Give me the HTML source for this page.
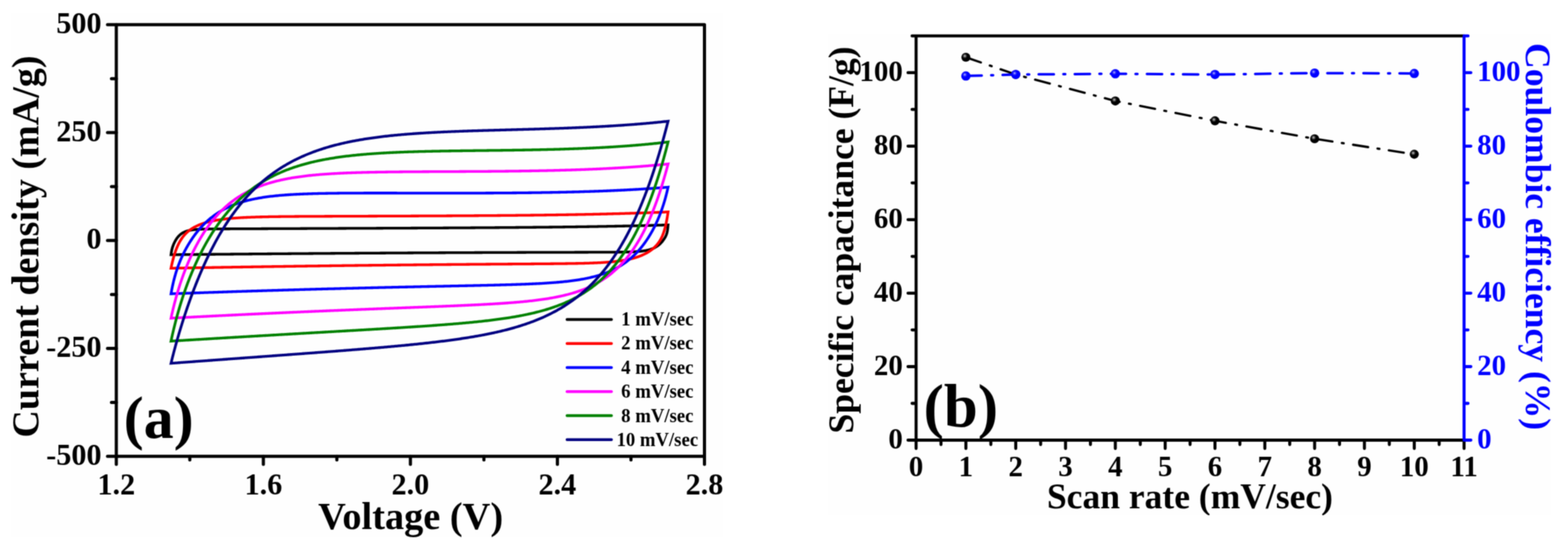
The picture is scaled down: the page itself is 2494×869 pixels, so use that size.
<!DOCTYPE html><html><head><meta charset="utf-8"><title>CV and capacitance</title><style>
html,body{margin:0;padding:0;background:#fff;width:2494px;height:869px;overflow:hidden}
svg{display:block}
text{font-family:'Liberation Serif','Times New Roman',serif;font-weight:bold}
</style></head><body>
<svg width="2494" height="869" viewBox="0 0 2494 869">
<defs>
<filter id="soft" x="0" y="0" width="2494" height="869" filterUnits="userSpaceOnUse" color-interpolation-filters="sRGB"><feConvolveMatrix order="5" kernelMatrix="0.00023 0.00332 0.00809 0.00332 0.00023 0.00332 0.04785 0.11640 0.04785 0.00332 0.00809 0.11640 0.28313 0.11640 0.00809 0.00332 0.04785 0.11640 0.04785 0.00332 0.00023 0.00332 0.00809 0.00332 0.00023" edgeMode="duplicate"/></filter>
<radialGradient id="gk" cx="0.38" cy="0.36" r="0.62"><stop offset="0" stop-color="#d8d8d8"/><stop offset="0.22" stop-color="#555"/><stop offset="0.45" stop-color="#000"/><stop offset="1" stop-color="#000"/></radialGradient>
<radialGradient id="gb" cx="0.38" cy="0.36" r="0.62"><stop offset="0" stop-color="#d0d0ff"/><stop offset="0.22" stop-color="#3a3aff"/><stop offset="0.45" stop-color="#0000ff"/><stop offset="1" stop-color="#0000ff"/></radialGradient>
<clipPath id="cl"><rect x="0" y="0" width="2494" height="855"/></clipPath>
<clipPath id="cr"><rect x="1317.5" y="0" width="1200" height="820"/></clipPath>
</defs>
<g filter="url(#soft)">
<rect x="0" y="0" width="2494" height="869" fill="#fff"/>
<rect x="16.9" y="20" width="1133.1" height="835" fill="#fefefe"/>
<rect x="1317.5" y="54" width="1149.5" height="766" fill="#fefefe"/>
<g id="left">
<path d="M272.00,405.40 L272.50,401.78 L273.00,399.01 L273.50,396.77 L274.00,394.89 L274.50,393.25 L275.00,391.78 L275.50,390.43 L276.00,389.17 L276.50,388.00 L277.00,386.89 L277.50,385.84 L278.00,384.85 L278.50,383.90 L279.00,383.00 L279.50,382.14 L280.00,381.32 L280.50,380.54 L281.00,379.79 L281.50,379.09 L282.00,378.41 L282.50,377.76 L283.00,377.15 L283.50,376.56 L284.00,376.00 L284.50,375.47 L285.00,374.96 L285.50,374.47 L286.00,374.01 L286.50,373.57 L287.00,373.15 L287.50,372.75 L288.00,372.36 L288.50,372.00 L289.00,371.65 L289.50,371.32 L290.00,371.00 L290.50,370.70 L291.00,370.41 L291.50,370.13 L292.00,369.87 L292.50,369.62 L293.00,369.38 L293.50,369.15 L294.00,368.94 L294.50,368.73 L295.00,368.53 L295.50,368.34 L296.00,368.16 L296.50,367.99 L297.00,367.82 L297.50,367.67 L298.00,367.52 L298.50,367.38 L299.00,367.24 L299.50,367.11 L300.00,366.99 L300.50,366.87 L301.00,366.76 L301.50,366.65 L302.00,366.55 L302.50,366.45 L303.00,366.35 L303.50,366.26 L304.00,366.18 L304.50,366.10 L305.00,366.02 L305.50,365.95 L306.00,365.87 L306.50,365.81 L307.00,365.74 L307.50,365.68 L308.00,365.62 L308.50,365.56 L309.00,365.51 L309.50,365.46 L310.00,365.41 L310.50,365.36 L311.00,365.32 L311.50,365.28 L312.00,365.24 L312.50,365.20 L313.00,365.16 L313.50,365.12 L314.00,365.09 L314.50,365.06 L315.00,365.02 L315.50,364.99 L316.00,364.97 L316.50,364.94 L317.00,364.91 L317.50,364.89 L318.00,364.86 L318.50,364.84 L319.00,364.82 L319.50,364.80 L320.00,364.78 L320.50,364.76 L321.00,364.74 L321.50,364.72 L322.00,364.70 L322.50,364.69 L323.00,364.67 L323.50,364.66 L324.00,364.64 L324.50,364.63 L325.00,364.62 L325.50,364.60 L326.00,364.59 L326.50,364.58 L327.00,364.57 L327.50,364.56 L328.00,364.55 L328.50,364.54 L329.00,364.53 L329.50,364.52 L330.00,364.51 L330.50,364.50 L331.00,364.49 L331.50,364.48 L332.00,364.47 L333.83,364.45 L335.66,364.42 L337.49,364.40 L339.32,364.39 L341.16,364.37 L342.99,364.35 L344.82,364.34 L346.65,364.33 L348.48,364.31 L350.31,364.30 L352.14,364.29 L353.97,364.28 L355.80,364.27 L357.64,364.26 L359.47,364.25 L361.30,364.25 L363.13,364.24 L364.96,364.23 L366.79,364.22 L368.62,364.21 L370.45,364.20 L372.28,364.20 L374.11,364.19 L375.95,364.18 L377.78,364.17 L379.61,364.17 L381.44,364.16 L383.27,364.15 L385.10,364.14 L386.93,364.14 L388.76,364.13 L390.59,364.12 L392.43,364.11 L394.26,364.11 L396.09,364.10 L397.92,364.09 L399.75,364.08 L401.58,364.08 L403.41,364.07 L405.24,364.06 L407.07,364.05 L408.91,364.05 L410.74,364.04 L412.57,364.03 L414.40,364.03 L416.23,364.02 L418.06,364.01 L419.89,364.00 L421.72,364.00 L423.55,363.99 L425.38,363.98 L427.22,363.97 L429.05,363.97 L430.88,363.96 L432.71,363.95 L434.54,363.94 L436.37,363.94 L438.20,363.93 L440.03,363.92 L441.86,363.91 L443.70,363.91 L445.53,363.90 L447.36,363.89 L449.19,363.89 L451.02,363.88 L452.85,363.87 L454.68,363.86 L456.51,363.86 L458.34,363.85 L460.18,363.84 L462.01,363.83 L463.84,363.83 L465.67,363.82 L467.50,363.81 L469.33,363.80 L471.16,363.80 L472.99,363.79 L474.82,363.78 L476.66,363.78 L478.49,363.77 L480.32,363.76 L482.15,363.75 L483.98,363.75 L485.81,363.74 L487.64,363.73 L489.47,363.72 L491.30,363.72 L493.13,363.71 L494.97,363.70 L496.80,363.69 L498.63,363.69 L500.46,363.68 L502.29,363.67 L504.12,363.66 L505.95,363.66 L507.78,363.65 L509.61,363.64 L511.45,363.63 L513.28,363.63 L515.11,363.62 L516.94,363.61 L518.77,363.60 L520.60,363.60 L522.43,363.59 L524.26,363.58 L526.09,363.57 L527.93,363.57 L529.76,363.56 L531.59,363.55 L533.42,363.54 L535.25,363.54 L537.08,363.53 L538.91,363.52 L540.74,363.51 L542.57,363.51 L544.41,363.50 L546.24,363.49 L548.07,363.48 L549.90,363.48 L551.73,363.47 L553.56,363.46 L555.39,363.45 L557.22,363.45 L559.05,363.44 L560.88,363.43 L562.72,363.42 L564.55,363.42 L566.38,363.41 L568.21,363.40 L570.04,363.39 L571.87,363.38 L573.70,363.38 L575.53,363.37 L577.36,363.36 L579.20,363.35 L581.03,363.35 L582.86,363.34 L584.69,363.33 L586.52,363.32 L588.35,363.32 L590.18,363.31 L592.01,363.30 L593.84,363.29 L595.68,363.28 L597.51,363.28 L599.34,363.27 L601.17,363.26 L603.00,363.25 L604.83,363.24 L606.66,363.24 L608.49,363.23 L610.32,363.22 L612.15,363.21 L613.99,363.20 L615.82,363.20 L617.65,363.19 L619.48,363.18 L621.31,363.17 L623.14,363.16 L624.97,363.16 L626.80,363.15 L628.63,363.14 L630.47,363.13 L632.30,363.12 L634.13,363.11 L635.96,363.11 L637.79,363.10 L639.62,363.09 L641.45,363.08 L643.28,363.07 L645.11,363.06 L646.95,363.06 L648.78,363.05 L650.61,363.04 L652.44,363.03 L654.27,363.02 L656.10,363.01 L657.93,363.00 L659.76,363.00 L661.59,362.99 L663.43,362.98 L665.26,362.97 L667.09,362.96 L668.92,362.95 L670.75,362.94 L672.58,362.93 L674.41,362.93 L676.24,362.92 L678.07,362.91 L679.90,362.90 L681.74,362.89 L683.57,362.88 L685.40,362.87 L687.23,362.86 L689.06,362.85 L690.89,362.84 L692.72,362.83 L694.55,362.82 L696.38,362.81 L698.22,362.81 L700.05,362.80 L701.88,362.79 L703.71,362.78 L705.54,362.77 L707.37,362.76 L709.20,362.75 L711.03,362.74 L712.86,362.73 L714.70,362.72 L716.53,362.71 L718.36,362.70 L720.19,362.69 L722.02,362.68 L723.85,362.67 L725.68,362.66 L727.51,362.65 L729.34,362.64 L731.17,362.63 L733.01,362.62 L734.84,362.60 L736.67,362.59 L738.50,362.58 L740.33,362.57 L742.16,362.56 L743.99,362.55 L745.82,362.54 L747.65,362.53 L749.49,362.52 L751.32,362.51 L753.15,362.50 L754.98,362.48 L756.81,362.47 L758.64,362.46 L760.47,362.45 L762.30,362.44 L764.13,362.43 L765.97,362.41 L767.80,362.40 L769.63,362.39 L771.46,362.38 L773.29,362.37 L775.12,362.35 L776.95,362.34 L778.78,362.33 L780.61,362.32 L782.45,362.30 L784.28,362.29 L786.11,362.28 L787.94,362.27 L789.77,362.25 L791.60,362.24 L793.43,362.23 L795.26,362.21 L797.09,362.20 L798.92,362.19 L800.76,362.17 L802.59,362.16 L804.42,362.14 L806.25,362.13 L808.08,362.12 L809.91,362.10 L811.74,362.09 L813.57,362.07 L815.40,362.06 L817.24,362.04 L819.07,362.03 L820.90,362.01 L822.73,362.00 L824.56,361.98 L826.39,361.97 L828.22,361.95 L830.05,361.94 L831.88,361.92 L833.72,361.91 L835.55,361.89 L837.38,361.87 L839.21,361.86 L841.04,361.84 L842.87,361.82 L844.70,361.81 L846.53,361.79 L848.36,361.77 L850.19,361.76 L852.03,361.74 L853.86,361.72 L855.69,361.70 L857.52,361.69 L859.35,361.67 L861.18,361.65 L863.01,361.63 L864.84,361.61 L866.67,361.59 L868.51,361.58 L870.34,361.56 L872.17,361.54 L874.00,361.52 L875.83,361.50 L877.66,361.48 L879.49,361.46 L881.32,361.44 L883.15,361.42 L884.99,361.40 L886.82,361.38 L888.65,361.35 L890.48,361.33 L892.31,361.31 L894.14,361.29 L895.97,361.27 L897.80,361.25 L899.63,361.22 L901.47,361.20 L903.30,361.18 L905.13,361.16 L906.96,361.13 L908.79,361.11 L910.62,361.09 L912.45,361.06 L914.28,361.04 L916.11,361.01 L917.94,360.99 L919.78,360.96 L921.61,360.94 L923.44,360.91 L925.27,360.89 L927.10,360.86 L928.93,360.84 L930.76,360.81 L932.59,360.78 L934.42,360.76 L936.26,360.73 L938.09,360.70 L939.92,360.67 L941.75,360.65 L943.58,360.62 L945.41,360.59 L947.24,360.56 L949.07,360.53 L950.90,360.50 L952.74,360.47 L954.57,360.44 L956.40,360.41 L958.23,360.38 L960.06,360.35 L961.89,360.32 L963.72,360.29 L965.55,360.26 L967.38,360.22 L969.22,360.19 L971.05,360.16 L972.88,360.12 L974.71,360.09 L976.54,360.06 L978.37,360.02 L980.20,359.99 L982.03,359.95 L983.86,359.92 L985.69,359.88 L987.53,359.85 L989.36,359.81 L991.19,359.77 L993.02,359.74 L994.85,359.70 L996.68,359.66 L998.51,359.62 L1000.34,359.58 L1002.17,359.54 L1004.01,359.50 L1005.84,359.46 L1007.67,359.42 L1009.50,359.38 L1011.33,359.34 L1013.16,359.30 L1014.99,359.26 L1016.82,359.22 L1018.65,359.17 L1020.49,359.13 L1022.32,359.09 L1024.15,359.04 L1025.98,359.00 L1027.81,358.95 L1029.64,358.91 L1031.47,358.86 L1033.30,358.81 L1035.13,358.77 L1036.96,358.72 L1038.80,358.67 L1040.63,358.62 L1042.46,358.57 L1044.29,358.52 L1046.12,358.47 L1047.95,358.42 L1049.78,358.37 L1051.61,358.32 L1053.44,358.27 L1055.28,358.22 L1057.11,358.16 L1058.94,358.11 L1060.77,358.05 L1062.60,358.00 L1062.10,363.26 L1061.60,366.87 L1061.10,369.45 L1060.60,371.40 L1060.10,372.96 L1059.60,374.26 L1059.10,375.39 L1058.60,376.42 L1058.10,377.36 L1057.60,378.24 L1057.10,379.07 L1056.60,379.87 L1056.10,380.63 L1055.60,381.36 L1055.10,382.07 L1054.60,382.74 L1054.10,383.40 L1053.60,384.03 L1053.10,384.63 L1052.60,385.22 L1052.10,385.78 L1051.60,386.33 L1051.10,386.86 L1050.60,387.36 L1050.10,387.85 L1049.60,388.33 L1049.10,388.78 L1048.60,389.22 L1048.10,389.65 L1047.60,390.06 L1047.10,390.45 L1046.60,390.83 L1046.10,391.20 L1045.60,391.56 L1045.10,391.90 L1044.60,392.23 L1044.10,392.55 L1043.60,392.86 L1043.10,393.16 L1042.60,393.44 L1042.10,393.72 L1041.60,393.99 L1041.10,394.25 L1040.60,394.50 L1040.10,394.74 L1039.60,394.97 L1039.10,395.19 L1038.60,395.41 L1038.10,395.62 L1037.60,395.82 L1037.10,396.01 L1036.60,396.20 L1036.10,396.38 L1035.60,396.55 L1035.10,396.72 L1034.60,396.88 L1034.10,397.04 L1033.60,397.19 L1033.10,397.34 L1032.60,397.48 L1032.10,397.62 L1031.60,397.75 L1031.10,397.87 L1030.60,398.00 L1030.10,398.11 L1029.60,398.23 L1029.10,398.34 L1028.60,398.44 L1028.10,398.55 L1027.60,398.64 L1027.10,398.74 L1026.60,398.83 L1026.10,398.92 L1025.60,399.01 L1025.10,399.09 L1024.60,399.17 L1024.10,399.25 L1023.60,399.32 L1023.10,399.39 L1022.60,399.46 L1022.10,399.53 L1021.60,399.59 L1021.10,399.66 L1020.60,399.72 L1020.10,399.77 L1019.60,399.83 L1019.10,399.88 L1018.60,399.94 L1018.10,399.99 L1017.60,400.04 L1017.10,400.08 L1016.60,400.13 L1016.10,400.17 L1015.60,400.21 L1015.10,400.25 L1014.60,400.29 L1014.10,400.33 L1013.60,400.37 L1013.10,400.40 L1012.60,400.44 L1012.10,400.47 L1011.60,400.50 L1011.10,400.53 L1010.60,400.56 L1010.10,400.59 L1009.60,400.62 L1009.10,400.65 L1008.60,400.67 L1008.10,400.70 L1007.60,400.72 L1007.10,400.75 L1006.60,400.77 L1006.10,400.79 L1005.60,400.81 L1005.10,400.83 L1004.60,400.85 L1004.10,400.87 L1003.60,400.89 L1003.10,400.91 L1002.60,400.92 L1000.77,400.98 L998.94,401.03 L997.11,401.08 L995.28,401.12 L993.44,401.15 L991.61,401.18 L989.78,401.21 L987.95,401.24 L986.12,401.26 L984.29,401.28 L982.46,401.29 L980.63,401.31 L978.80,401.32 L976.96,401.34 L975.13,401.35 L973.30,401.36 L971.47,401.37 L969.64,401.38 L967.81,401.39 L965.98,401.39 L964.15,401.40 L962.32,401.41 L960.49,401.41 L958.65,401.42 L956.82,401.42 L954.99,401.43 L953.16,401.43 L951.33,401.44 L949.50,401.44 L947.67,401.45 L945.84,401.45 L944.01,401.46 L942.17,401.46 L940.34,401.47 L938.51,401.47 L936.68,401.47 L934.85,401.48 L933.02,401.48 L931.19,401.49 L929.36,401.49 L927.53,401.49 L925.69,401.50 L923.86,401.50 L922.03,401.51 L920.20,401.51 L918.37,401.51 L916.54,401.52 L914.71,401.52 L912.88,401.53 L911.05,401.53 L909.22,401.53 L907.38,401.54 L905.55,401.54 L903.72,401.55 L901.89,401.55 L900.06,401.56 L898.23,401.56 L896.40,401.56 L894.57,401.57 L892.74,401.57 L890.90,401.58 L889.07,401.58 L887.24,401.59 L885.41,401.59 L883.58,401.60 L881.75,401.60 L879.92,401.60 L878.09,401.61 L876.26,401.61 L874.42,401.62 L872.59,401.62 L870.76,401.63 L868.93,401.63 L867.10,401.64 L865.27,401.64 L863.44,401.65 L861.61,401.65 L859.78,401.66 L857.94,401.66 L856.11,401.67 L854.28,401.68 L852.45,401.68 L850.62,401.69 L848.79,401.69 L846.96,401.70 L845.13,401.70 L843.30,401.71 L841.47,401.71 L839.63,401.72 L837.80,401.72 L835.97,401.73 L834.14,401.74 L832.31,401.74 L830.48,401.75 L828.65,401.75 L826.82,401.76 L824.99,401.77 L823.15,401.77 L821.32,401.78 L819.49,401.78 L817.66,401.79 L815.83,401.80 L814.00,401.80 L812.17,401.81 L810.34,401.81 L808.51,401.82 L806.67,401.83 L804.84,401.83 L803.01,401.84 L801.18,401.85 L799.35,401.85 L797.52,401.86 L795.69,401.87 L793.86,401.87 L792.03,401.88 L790.19,401.89 L788.36,401.89 L786.53,401.90 L784.70,401.91 L782.87,401.91 L781.04,401.92 L779.21,401.93 L777.38,401.93 L775.55,401.94 L773.72,401.95 L771.88,401.95 L770.05,401.96 L768.22,401.97 L766.39,401.98 L764.56,401.98 L762.73,401.99 L760.90,402.00 L759.07,402.01 L757.24,402.01 L755.40,402.02 L753.57,402.03 L751.74,402.04 L749.91,402.04 L748.08,402.05 L746.25,402.06 L744.42,402.07 L742.59,402.07 L740.76,402.08 L738.92,402.09 L737.09,402.10 L735.26,402.10 L733.43,402.11 L731.60,402.12 L729.77,402.13 L727.94,402.14 L726.11,402.15 L724.28,402.15 L722.45,402.16 L720.61,402.17 L718.78,402.18 L716.95,402.19 L715.12,402.19 L713.29,402.20 L711.46,402.21 L709.63,402.22 L707.80,402.23 L705.97,402.24 L704.13,402.25 L702.30,402.25 L700.47,402.26 L698.64,402.27 L696.81,402.28 L694.98,402.29 L693.15,402.30 L691.32,402.31 L689.49,402.32 L687.65,402.32 L685.82,402.33 L683.99,402.34 L682.16,402.35 L680.33,402.36 L678.50,402.37 L676.67,402.38 L674.84,402.39 L673.01,402.40 L671.17,402.41 L669.34,402.42 L667.51,402.43 L665.68,402.44 L663.85,402.44 L662.02,402.45 L660.19,402.46 L658.36,402.47 L656.53,402.48 L654.70,402.49 L652.86,402.50 L651.03,402.51 L649.20,402.52 L647.37,402.53 L645.54,402.54 L643.71,402.55 L641.88,402.56 L640.05,402.57 L638.22,402.58 L636.38,402.59 L634.55,402.60 L632.72,402.61 L630.89,402.62 L629.06,402.63 L627.23,402.64 L625.40,402.65 L623.57,402.66 L621.74,402.67 L619.90,402.68 L618.07,402.69 L616.24,402.71 L614.41,402.72 L612.58,402.73 L610.75,402.74 L608.92,402.75 L607.09,402.76 L605.26,402.77 L603.43,402.78 L601.59,402.79 L599.76,402.80 L597.93,402.81 L596.10,402.82 L594.27,402.83 L592.44,402.85 L590.61,402.86 L588.78,402.87 L586.95,402.88 L585.11,402.89 L583.28,402.90 L581.45,402.91 L579.62,402.92 L577.79,402.94 L575.96,402.95 L574.13,402.96 L572.30,402.97 L570.47,402.98 L568.63,402.99 L566.80,403.00 L564.97,403.02 L563.14,403.03 L561.31,403.04 L559.48,403.05 L557.65,403.06 L555.82,403.08 L553.99,403.09 L552.15,403.10 L550.32,403.11 L548.49,403.12 L546.66,403.13 L544.83,403.15 L543.00,403.16 L541.17,403.17 L539.34,403.18 L537.51,403.20 L535.68,403.21 L533.84,403.22 L532.01,403.23 L530.18,403.25 L528.35,403.26 L526.52,403.27 L524.69,403.28 L522.86,403.30 L521.03,403.31 L519.20,403.32 L517.36,403.33 L515.53,403.35 L513.70,403.36 L511.87,403.37 L510.04,403.38 L508.21,403.40 L506.38,403.41 L504.55,403.42 L502.72,403.44 L500.88,403.45 L499.05,403.46 L497.22,403.48 L495.39,403.49 L493.56,403.50 L491.73,403.52 L489.90,403.53 L488.07,403.54 L486.24,403.56 L484.41,403.57 L482.57,403.58 L480.74,403.60 L478.91,403.61 L477.08,403.62 L475.25,403.64 L473.42,403.65 L471.59,403.66 L469.76,403.68 L467.93,403.69 L466.09,403.71 L464.26,403.72 L462.43,403.73 L460.60,403.75 L458.77,403.76 L456.94,403.78 L455.11,403.79 L453.28,403.80 L451.45,403.82 L449.61,403.83 L447.78,403.85 L445.95,403.86 L444.12,403.87 L442.29,403.89 L440.46,403.90 L438.63,403.92 L436.80,403.93 L434.97,403.95 L433.13,403.96 L431.30,403.98 L429.47,403.99 L427.64,404.01 L425.81,404.02 L423.98,404.03 L422.15,404.05 L420.32,404.06 L418.49,404.08 L416.66,404.09 L414.82,404.11 L412.99,404.12 L411.16,404.14 L409.33,404.15 L407.50,404.17 L405.67,404.18 L403.84,404.20 L402.01,404.21 L400.18,404.23 L398.34,404.25 L396.51,404.26 L394.68,404.28 L392.85,404.29 L391.02,404.31 L389.19,404.32 L387.36,404.34 L385.53,404.35 L383.70,404.37 L381.86,404.39 L380.03,404.40 L378.20,404.42 L376.37,404.43 L374.54,404.45 L372.71,404.46 L370.88,404.48 L369.05,404.50 L367.22,404.51 L365.38,404.53 L363.55,404.54 L361.72,404.56 L359.89,404.58 L358.06,404.59 L356.23,404.61 L354.40,404.63 L352.57,404.64 L350.74,404.66 L348.91,404.67 L347.07,404.69 L345.24,404.71 L343.41,404.72 L341.58,404.74 L339.75,404.76 L337.92,404.77 L336.09,404.79 L334.26,404.81 L332.43,404.82 L330.59,404.84 L328.76,404.86 L326.93,404.87 L325.10,404.89 L323.27,404.91 L321.44,404.93 L319.61,404.94 L317.78,404.96 L315.95,404.98 L314.11,404.99 L312.28,405.01 L310.45,405.03 L308.62,405.05 L306.79,405.06 L304.96,405.08 L303.13,405.10 L301.30,405.12 L299.47,405.13 L297.64,405.15 L295.80,405.17 L293.97,405.19 L292.14,405.20 L290.31,405.22 L288.48,405.24 L286.65,405.26 L284.82,405.27 L282.99,405.29 L281.16,405.31 L279.32,405.33 L277.49,405.35 L275.66,405.36 L273.83,405.38Z" fill="none" stroke="#000000" stroke-width="4.3" stroke-linejoin="miter" stroke-miterlimit="10"/>
<path d="M272.00,426.90 L272.50,424.48 L273.00,422.16 L273.50,419.93 L274.00,417.78 L274.50,415.72 L275.00,413.74 L275.50,411.84 L276.00,410.01 L276.50,408.25 L277.00,406.55 L277.50,404.92 L278.00,403.34 L278.50,401.83 L279.00,400.37 L279.50,398.96 L280.00,397.61 L280.50,396.30 L281.00,395.03 L281.50,393.82 L282.00,392.64 L282.50,391.50 L283.00,390.40 L283.50,389.34 L284.00,388.32 L284.50,387.33 L285.00,386.37 L285.50,385.44 L286.00,384.54 L286.50,383.67 L287.00,382.82 L287.50,382.01 L288.00,381.21 L288.50,380.45 L289.00,379.70 L289.50,378.98 L290.00,378.28 L290.50,377.60 L291.00,376.93 L291.50,376.29 L292.00,375.67 L292.50,375.06 L293.00,374.47 L293.50,373.90 L294.00,373.34 L294.50,372.79 L295.00,372.26 L295.50,371.75 L296.00,371.24 L296.50,370.75 L297.00,370.28 L297.50,369.81 L298.00,369.36 L298.50,368.91 L299.00,368.48 L299.50,368.06 L300.00,367.65 L300.50,367.25 L301.00,366.85 L301.50,366.47 L302.00,366.10 L302.50,365.73 L303.00,365.37 L303.50,365.02 L304.00,364.68 L304.50,364.34 L305.00,364.01 L305.50,363.69 L306.00,363.38 L306.50,363.07 L307.00,362.77 L307.50,362.47 L308.00,362.18 L308.50,361.90 L309.00,361.62 L309.50,361.35 L310.00,361.08 L310.50,360.82 L311.00,360.56 L311.50,360.31 L312.00,360.06 L312.50,359.82 L313.00,359.58 L313.50,359.35 L314.00,359.12 L314.50,358.89 L315.00,358.67 L315.50,358.45 L316.00,358.24 L316.50,358.03 L317.00,357.82 L317.50,357.62 L318.00,357.42 L318.50,357.23 L319.00,357.04 L319.50,356.85 L320.00,356.66 L320.50,356.48 L321.00,356.30 L321.50,356.12 L322.00,355.95 L322.50,355.78 L323.00,355.61 L323.50,355.45 L324.00,355.29 L324.50,355.13 L325.00,354.97 L325.50,354.82 L326.00,354.66 L326.50,354.51 L327.00,354.37 L327.50,354.22 L328.00,354.08 L328.50,353.94 L329.00,353.80 L329.50,353.67 L330.00,353.53 L330.50,353.40 L331.00,353.27 L331.50,353.14 L332.00,353.02 L333.83,352.58 L335.66,352.16 L337.49,351.76 L339.32,351.39 L341.16,351.03 L342.99,350.70 L344.82,350.38 L346.65,350.08 L348.48,349.79 L350.31,349.52 L352.14,349.26 L353.97,349.02 L355.80,348.79 L357.64,348.57 L359.47,348.37 L361.30,348.17 L363.13,347.98 L364.96,347.80 L366.79,347.64 L368.62,347.48 L370.45,347.33 L372.28,347.18 L374.11,347.04 L375.95,346.91 L377.78,346.79 L379.61,346.67 L381.44,346.56 L383.27,346.46 L385.10,346.36 L386.93,346.26 L388.76,346.17 L390.59,346.08 L392.43,346.00 L394.26,345.92 L396.09,345.85 L397.92,345.78 L399.75,345.71 L401.58,345.65 L403.41,345.58 L405.24,345.53 L407.07,345.47 L408.91,345.42 L410.74,345.37 L412.57,345.32 L414.40,345.27 L416.23,345.23 L418.06,345.19 L419.89,345.15 L421.72,345.11 L423.55,345.07 L425.38,345.04 L427.22,345.01 L429.05,344.97 L430.88,344.94 L432.71,344.91 L434.54,344.89 L436.37,344.86 L438.20,344.83 L440.03,344.81 L441.86,344.79 L443.70,344.76 L445.53,344.74 L447.36,344.72 L449.19,344.70 L451.02,344.68 L452.85,344.66 L454.68,344.65 L456.51,344.63 L458.34,344.61 L460.18,344.60 L462.01,344.58 L463.84,344.57 L465.67,344.55 L467.50,344.54 L469.33,344.52 L471.16,344.51 L472.99,344.50 L474.82,344.49 L476.66,344.47 L478.49,344.46 L480.32,344.45 L482.15,344.44 L483.98,344.43 L485.81,344.42 L487.64,344.41 L489.47,344.40 L491.30,344.39 L493.13,344.38 L494.97,344.37 L496.80,344.36 L498.63,344.35 L500.46,344.34 L502.29,344.33 L504.12,344.33 L505.95,344.32 L507.78,344.31 L509.61,344.30 L511.45,344.29 L513.28,344.29 L515.11,344.28 L516.94,344.27 L518.77,344.26 L520.60,344.26 L522.43,344.25 L524.26,344.24 L526.09,344.23 L527.93,344.23 L529.76,344.22 L531.59,344.21 L533.42,344.21 L535.25,344.20 L537.08,344.19 L538.91,344.19 L540.74,344.18 L542.57,344.17 L544.41,344.17 L546.24,344.16 L548.07,344.15 L549.90,344.15 L551.73,344.14 L553.56,344.13 L555.39,344.13 L557.22,344.12 L559.05,344.12 L560.88,344.11 L562.72,344.10 L564.55,344.10 L566.38,344.09 L568.21,344.08 L570.04,344.08 L571.87,344.07 L573.70,344.07 L575.53,344.06 L577.36,344.05 L579.20,344.05 L581.03,344.04 L582.86,344.03 L584.69,344.03 L586.52,344.02 L588.35,344.01 L590.18,344.01 L592.01,344.00 L593.84,344.00 L595.68,343.99 L597.51,343.98 L599.34,343.98 L601.17,343.97 L603.00,343.96 L604.83,343.96 L606.66,343.95 L608.49,343.94 L610.32,343.94 L612.15,343.93 L613.99,343.93 L615.82,343.92 L617.65,343.91 L619.48,343.91 L621.31,343.90 L623.14,343.89 L624.97,343.89 L626.80,343.88 L628.63,343.87 L630.47,343.87 L632.30,343.86 L634.13,343.85 L635.96,343.84 L637.79,343.84 L639.62,343.83 L641.45,343.82 L643.28,343.82 L645.11,343.81 L646.95,343.80 L648.78,343.80 L650.61,343.79 L652.44,343.78 L654.27,343.77 L656.10,343.77 L657.93,343.76 L659.76,343.75 L661.59,343.74 L663.43,343.74 L665.26,343.73 L667.09,343.72 L668.92,343.71 L670.75,343.71 L672.58,343.70 L674.41,343.69 L676.24,343.68 L678.07,343.67 L679.90,343.67 L681.74,343.66 L683.57,343.65 L685.40,343.64 L687.23,343.63 L689.06,343.63 L690.89,343.62 L692.72,343.61 L694.55,343.60 L696.38,343.59 L698.22,343.58 L700.05,343.57 L701.88,343.57 L703.71,343.56 L705.54,343.55 L707.37,343.54 L709.20,343.53 L711.03,343.52 L712.86,343.51 L714.70,343.50 L716.53,343.49 L718.36,343.48 L720.19,343.47 L722.02,343.46 L723.85,343.45 L725.68,343.44 L727.51,343.43 L729.34,343.42 L731.17,343.41 L733.01,343.40 L734.84,343.39 L736.67,343.38 L738.50,343.37 L740.33,343.36 L742.16,343.35 L743.99,343.34 L745.82,343.33 L747.65,343.32 L749.49,343.31 L751.32,343.29 L753.15,343.28 L754.98,343.27 L756.81,343.26 L758.64,343.25 L760.47,343.24 L762.30,343.22 L764.13,343.21 L765.97,343.20 L767.80,343.19 L769.63,343.17 L771.46,343.16 L773.29,343.15 L775.12,343.14 L776.95,343.12 L778.78,343.11 L780.61,343.10 L782.45,343.08 L784.28,343.07 L786.11,343.05 L787.94,343.04 L789.77,343.03 L791.60,343.01 L793.43,343.00 L795.26,342.98 L797.09,342.97 L798.92,342.95 L800.76,342.94 L802.59,342.92 L804.42,342.91 L806.25,342.89 L808.08,342.88 L809.91,342.86 L811.74,342.84 L813.57,342.83 L815.40,342.81 L817.24,342.79 L819.07,342.78 L820.90,342.76 L822.73,342.74 L824.56,342.72 L826.39,342.71 L828.22,342.69 L830.05,342.67 L831.88,342.65 L833.72,342.63 L835.55,342.61 L837.38,342.59 L839.21,342.58 L841.04,342.56 L842.87,342.54 L844.70,342.52 L846.53,342.50 L848.36,342.48 L850.19,342.45 L852.03,342.43 L853.86,342.41 L855.69,342.39 L857.52,342.37 L859.35,342.35 L861.18,342.32 L863.01,342.30 L864.84,342.28 L866.67,342.26 L868.51,342.23 L870.34,342.21 L872.17,342.19 L874.00,342.16 L875.83,342.14 L877.66,342.11 L879.49,342.09 L881.32,342.06 L883.15,342.04 L884.99,342.01 L886.82,341.98 L888.65,341.96 L890.48,341.93 L892.31,341.90 L894.14,341.87 L895.97,341.85 L897.80,341.82 L899.63,341.79 L901.47,341.76 L903.30,341.73 L905.13,341.70 L906.96,341.67 L908.79,341.64 L910.62,341.61 L912.45,341.58 L914.28,341.55 L916.11,341.52 L917.94,341.48 L919.78,341.45 L921.61,341.42 L923.44,341.39 L925.27,341.35 L927.10,341.32 L928.93,341.28 L930.76,341.25 L932.59,341.21 L934.42,341.18 L936.26,341.14 L938.09,341.10 L939.92,341.07 L941.75,341.03 L943.58,340.99 L945.41,340.95 L947.24,340.91 L949.07,340.87 L950.90,340.83 L952.74,340.79 L954.57,340.75 L956.40,340.71 L958.23,340.67 L960.06,340.63 L961.89,340.59 L963.72,340.54 L965.55,340.50 L967.38,340.45 L969.22,340.41 L971.05,340.36 L972.88,340.32 L974.71,340.27 L976.54,340.22 L978.37,340.18 L980.20,340.13 L982.03,340.08 L983.86,340.03 L985.69,339.98 L987.53,339.93 L989.36,339.88 L991.19,339.83 L993.02,339.78 L994.85,339.72 L996.68,339.67 L998.51,339.62 L1000.34,339.56 L1002.17,339.51 L1004.01,339.45 L1005.84,339.40 L1007.67,339.34 L1009.50,339.28 L1011.33,339.22 L1013.16,339.16 L1014.99,339.11 L1016.82,339.05 L1018.65,338.98 L1020.49,338.92 L1022.32,338.86 L1024.15,338.80 L1025.98,338.73 L1027.81,338.67 L1029.64,338.60 L1031.47,338.54 L1033.30,338.47 L1035.13,338.40 L1036.96,338.34 L1038.80,338.27 L1040.63,338.20 L1042.46,338.13 L1044.29,338.06 L1046.12,337.98 L1047.95,337.91 L1049.78,337.84 L1051.61,337.76 L1053.44,337.69 L1055.28,337.61 L1057.11,337.54 L1058.94,337.46 L1060.77,337.38 L1062.60,337.30 L1062.10,340.78 L1061.60,344.01 L1061.10,347.03 L1060.60,349.85 L1060.10,352.48 L1059.60,354.95 L1059.10,357.25 L1058.60,359.42 L1058.10,361.45 L1057.60,363.35 L1057.10,365.15 L1056.60,366.84 L1056.10,368.43 L1055.60,369.94 L1055.10,371.36 L1054.60,372.71 L1054.10,373.99 L1053.60,375.20 L1053.10,376.36 L1052.60,377.45 L1052.10,378.50 L1051.60,379.50 L1051.10,380.45 L1050.60,381.36 L1050.10,382.23 L1049.60,383.07 L1049.10,383.87 L1048.60,384.65 L1048.10,385.39 L1047.60,386.10 L1047.10,386.79 L1046.60,387.46 L1046.10,388.10 L1045.60,388.72 L1045.10,389.33 L1044.60,389.91 L1044.10,390.48 L1043.60,391.02 L1043.10,391.56 L1042.60,392.08 L1042.10,392.58 L1041.60,393.07 L1041.10,393.55 L1040.60,394.01 L1040.10,394.47 L1039.60,394.91 L1039.10,395.34 L1038.60,395.77 L1038.10,396.18 L1037.60,396.58 L1037.10,396.98 L1036.60,397.36 L1036.10,397.74 L1035.60,398.11 L1035.10,398.47 L1034.60,398.83 L1034.10,399.17 L1033.60,399.51 L1033.10,399.85 L1032.60,400.18 L1032.10,400.50 L1031.60,400.81 L1031.10,401.12 L1030.60,401.42 L1030.10,401.72 L1029.60,402.02 L1029.10,402.30 L1028.60,402.58 L1028.10,402.86 L1027.60,403.13 L1027.10,403.40 L1026.60,403.66 L1026.10,403.92 L1025.60,404.18 L1025.10,404.42 L1024.60,404.67 L1024.10,404.91 L1023.60,405.15 L1023.10,405.38 L1022.60,405.61 L1022.10,405.83 L1021.60,406.05 L1021.10,406.27 L1020.60,406.49 L1020.10,406.70 L1019.60,406.90 L1019.10,407.11 L1018.60,407.31 L1018.10,407.50 L1017.60,407.70 L1017.10,407.89 L1016.60,408.07 L1016.10,408.26 L1015.60,408.44 L1015.10,408.62 L1014.60,408.79 L1014.10,408.97 L1013.60,409.14 L1013.10,409.30 L1012.60,409.47 L1012.10,409.63 L1011.60,409.79 L1011.10,409.94 L1010.60,410.10 L1010.10,410.25 L1009.60,410.40 L1009.10,410.54 L1008.60,410.69 L1008.10,410.83 L1007.60,410.97 L1007.10,411.11 L1006.60,411.24 L1006.10,411.37 L1005.60,411.51 L1005.10,411.63 L1004.60,411.76 L1004.10,411.89 L1003.60,412.01 L1003.10,412.13 L1002.60,412.25 L1000.77,412.67 L998.94,413.06 L997.11,413.43 L995.28,413.78 L993.44,414.12 L991.61,414.43 L989.78,414.72 L987.95,415.00 L986.12,415.26 L984.29,415.51 L982.46,415.74 L980.63,415.96 L978.80,416.17 L976.96,416.37 L975.13,416.55 L973.30,416.73 L971.47,416.89 L969.64,417.05 L967.81,417.20 L965.98,417.34 L964.15,417.47 L962.32,417.59 L960.49,417.71 L958.65,417.82 L956.82,417.93 L954.99,418.03 L953.16,418.12 L951.33,418.21 L949.50,418.29 L947.67,418.37 L945.84,418.45 L944.01,418.52 L942.17,418.59 L940.34,418.66 L938.51,418.72 L936.68,418.78 L934.85,418.83 L933.02,418.88 L931.19,418.93 L929.36,418.98 L927.53,419.03 L925.69,419.07 L923.86,419.11 L922.03,419.15 L920.20,419.19 L918.37,419.23 L916.54,419.26 L914.71,419.29 L912.88,419.32 L911.05,419.35 L909.22,419.38 L907.38,419.41 L905.55,419.44 L903.72,419.46 L901.89,419.49 L900.06,419.51 L898.23,419.54 L896.40,419.56 L894.57,419.58 L892.74,419.60 L890.90,419.62 L889.07,419.64 L887.24,419.66 L885.41,419.68 L883.58,419.70 L881.75,419.72 L879.92,419.73 L878.09,419.75 L876.26,419.77 L874.42,419.78 L872.59,419.80 L870.76,419.82 L868.93,419.83 L867.10,419.85 L865.27,419.86 L863.44,419.88 L861.61,419.89 L859.78,419.90 L857.94,419.92 L856.11,419.93 L854.28,419.95 L852.45,419.96 L850.62,419.97 L848.79,419.99 L846.96,420.00 L845.13,420.01 L843.30,420.03 L841.47,420.04 L839.63,420.05 L837.80,420.07 L835.97,420.08 L834.14,420.09 L832.31,420.10 L830.48,420.12 L828.65,420.13 L826.82,420.14 L824.99,420.15 L823.15,420.17 L821.32,420.18 L819.49,420.19 L817.66,420.21 L815.83,420.22 L814.00,420.23 L812.17,420.24 L810.34,420.26 L808.51,420.27 L806.67,420.28 L804.84,420.30 L803.01,420.31 L801.18,420.32 L799.35,420.33 L797.52,420.35 L795.69,420.36 L793.86,420.37 L792.03,420.39 L790.19,420.40 L788.36,420.41 L786.53,420.43 L784.70,420.44 L782.87,420.45 L781.04,420.47 L779.21,420.48 L777.38,420.49 L775.55,420.51 L773.72,420.52 L771.88,420.53 L770.05,420.55 L768.22,420.56 L766.39,420.58 L764.56,420.59 L762.73,420.60 L760.90,420.62 L759.07,420.63 L757.24,420.65 L755.40,420.66 L753.57,420.68 L751.74,420.69 L749.91,420.70 L748.08,420.72 L746.25,420.73 L744.42,420.75 L742.59,420.76 L740.76,420.78 L738.92,420.79 L737.09,420.81 L735.26,420.82 L733.43,420.84 L731.60,420.85 L729.77,420.87 L727.94,420.88 L726.11,420.90 L724.28,420.91 L722.45,420.93 L720.61,420.94 L718.78,420.96 L716.95,420.98 L715.12,420.99 L713.29,421.01 L711.46,421.02 L709.63,421.04 L707.80,421.06 L705.97,421.07 L704.13,421.09 L702.30,421.10 L700.47,421.12 L698.64,421.14 L696.81,421.15 L694.98,421.17 L693.15,421.19 L691.32,421.20 L689.49,421.22 L687.65,421.24 L685.82,421.25 L683.99,421.27 L682.16,421.29 L680.33,421.30 L678.50,421.32 L676.67,421.34 L674.84,421.36 L673.01,421.37 L671.17,421.39 L669.34,421.41 L667.51,421.43 L665.68,421.44 L663.85,421.46 L662.02,421.48 L660.19,421.50 L658.36,421.51 L656.53,421.53 L654.70,421.55 L652.86,421.57 L651.03,421.59 L649.20,421.61 L647.37,421.62 L645.54,421.64 L643.71,421.66 L641.88,421.68 L640.05,421.70 L638.22,421.72 L636.38,421.74 L634.55,421.75 L632.72,421.77 L630.89,421.79 L629.06,421.81 L627.23,421.83 L625.40,421.85 L623.57,421.87 L621.74,421.89 L619.90,421.91 L618.07,421.93 L616.24,421.95 L614.41,421.97 L612.58,421.99 L610.75,422.01 L608.92,422.03 L607.09,422.05 L605.26,422.07 L603.43,422.09 L601.59,422.11 L599.76,422.13 L597.93,422.15 L596.10,422.17 L594.27,422.19 L592.44,422.21 L590.61,422.23 L588.78,422.25 L586.95,422.27 L585.11,422.29 L583.28,422.31 L581.45,422.33 L579.62,422.35 L577.79,422.37 L575.96,422.40 L574.13,422.42 L572.30,422.44 L570.47,422.46 L568.63,422.48 L566.80,422.50 L564.97,422.52 L563.14,422.55 L561.31,422.57 L559.48,422.59 L557.65,422.61 L555.82,422.63 L553.99,422.66 L552.15,422.68 L550.32,422.70 L548.49,422.72 L546.66,422.74 L544.83,422.77 L543.00,422.79 L541.17,422.81 L539.34,422.83 L537.51,422.86 L535.68,422.88 L533.84,422.90 L532.01,422.93 L530.18,422.95 L528.35,422.97 L526.52,422.99 L524.69,423.02 L522.86,423.04 L521.03,423.06 L519.20,423.09 L517.36,423.11 L515.53,423.13 L513.70,423.16 L511.87,423.18 L510.04,423.21 L508.21,423.23 L506.38,423.25 L504.55,423.28 L502.72,423.30 L500.88,423.32 L499.05,423.35 L497.22,423.37 L495.39,423.40 L493.56,423.42 L491.73,423.45 L489.90,423.47 L488.07,423.50 L486.24,423.52 L484.41,423.54 L482.57,423.57 L480.74,423.59 L478.91,423.62 L477.08,423.64 L475.25,423.67 L473.42,423.69 L471.59,423.72 L469.76,423.75 L467.93,423.77 L466.09,423.80 L464.26,423.82 L462.43,423.85 L460.60,423.87 L458.77,423.90 L456.94,423.92 L455.11,423.95 L453.28,423.98 L451.45,424.00 L449.61,424.03 L447.78,424.05 L445.95,424.08 L444.12,424.11 L442.29,424.13 L440.46,424.16 L438.63,424.19 L436.80,424.21 L434.97,424.24 L433.13,424.27 L431.30,424.29 L429.47,424.32 L427.64,424.35 L425.81,424.37 L423.98,424.40 L422.15,424.43 L420.32,424.46 L418.49,424.48 L416.66,424.51 L414.82,424.54 L412.99,424.57 L411.16,424.59 L409.33,424.62 L407.50,424.65 L405.67,424.68 L403.84,424.70 L402.01,424.73 L400.18,424.76 L398.34,424.79 L396.51,424.82 L394.68,424.84 L392.85,424.87 L391.02,424.90 L389.19,424.93 L387.36,424.96 L385.53,424.99 L383.70,425.02 L381.86,425.04 L380.03,425.07 L378.20,425.10 L376.37,425.13 L374.54,425.16 L372.71,425.19 L370.88,425.22 L369.05,425.25 L367.22,425.28 L365.38,425.31 L363.55,425.34 L361.72,425.37 L359.89,425.39 L358.06,425.42 L356.23,425.45 L354.40,425.48 L352.57,425.51 L350.74,425.54 L348.91,425.57 L347.07,425.60 L345.24,425.63 L343.41,425.66 L341.58,425.69 L339.75,425.73 L337.92,425.76 L336.09,425.79 L334.26,425.82 L332.43,425.85 L330.59,425.88 L328.76,425.91 L326.93,425.94 L325.10,425.97 L323.27,426.00 L321.44,426.03 L319.61,426.06 L317.78,426.10 L315.95,426.13 L314.11,426.16 L312.28,426.19 L310.45,426.22 L308.62,426.25 L306.79,426.28 L304.96,426.32 L303.13,426.35 L301.30,426.38 L299.47,426.41 L297.64,426.44 L295.80,426.48 L293.97,426.51 L292.14,426.54 L290.31,426.57 L288.48,426.61 L286.65,426.64 L284.82,426.67 L282.99,426.70 L281.16,426.74 L279.32,426.77 L277.49,426.80 L275.66,426.83 L273.83,426.87Z" fill="none" stroke="#ff0000" stroke-width="4.3" stroke-linejoin="miter" stroke-miterlimit="10"/>
<path d="M272.00,467.60 L272.50,464.80 L273.00,462.12 L273.50,459.55 L274.00,457.08 L274.50,454.71 L275.00,452.43 L275.50,450.24 L276.00,448.12 L276.50,446.08 L277.00,444.10 L277.50,442.19 L278.00,440.34 L278.50,438.55 L279.00,436.81 L279.50,435.12 L280.00,433.48 L280.50,431.88 L281.00,430.33 L281.50,428.81 L282.00,427.33 L282.50,425.89 L283.00,424.48 L283.50,423.10 L284.00,421.75 L284.50,420.43 L285.00,419.13 L285.50,417.86 L286.00,416.62 L286.50,415.40 L287.00,414.20 L287.50,413.02 L288.00,411.86 L288.50,410.72 L289.00,409.61 L289.50,408.50 L290.00,407.42 L290.50,406.35 L291.00,405.30 L291.50,404.26 L292.00,403.24 L292.50,402.23 L293.00,401.24 L293.50,400.26 L294.00,399.29 L294.50,398.34 L295.00,397.40 L295.50,396.47 L296.00,395.55 L296.50,394.64 L297.00,393.74 L297.50,392.86 L298.00,391.98 L298.50,391.12 L299.00,390.26 L299.50,389.42 L300.00,388.58 L300.50,387.76 L301.00,386.94 L301.50,386.13 L302.00,385.34 L302.50,384.55 L303.00,383.77 L303.50,382.99 L304.00,382.23 L304.50,381.47 L305.00,380.72 L305.50,379.98 L306.00,379.25 L306.50,378.53 L307.00,377.81 L307.50,377.10 L308.00,376.40 L308.50,375.70 L309.00,375.01 L309.50,374.33 L310.00,373.66 L310.50,372.99 L311.00,372.33 L311.50,371.68 L312.00,371.03 L312.50,370.39 L313.00,369.75 L313.50,369.13 L314.00,368.50 L314.50,367.89 L315.00,367.28 L315.50,366.68 L316.00,366.08 L316.50,365.49 L317.00,364.90 L317.50,364.33 L318.00,363.75 L318.50,363.18 L319.00,362.62 L319.50,362.07 L320.00,361.52 L320.50,360.97 L321.00,360.43 L321.50,359.90 L322.00,359.37 L322.50,358.84 L323.00,358.32 L323.50,357.81 L324.00,357.30 L324.50,356.80 L325.00,356.30 L325.50,355.80 L326.00,355.32 L326.50,354.83 L327.00,354.35 L327.50,353.88 L328.00,353.41 L328.50,352.94 L329.00,352.48 L329.50,352.03 L330.00,351.57 L330.50,351.13 L331.00,350.68 L331.50,350.25 L332.00,349.81 L333.83,348.26 L335.66,346.76 L337.49,345.32 L339.32,343.92 L341.16,342.58 L342.99,341.29 L344.82,340.04 L346.65,338.83 L348.48,337.67 L350.31,336.55 L352.14,335.47 L353.97,334.43 L355.80,333.42 L357.64,332.46 L359.47,331.52 L361.30,330.62 L363.13,329.75 L364.96,328.91 L366.79,328.11 L368.62,327.33 L370.45,326.58 L372.28,325.86 L374.11,325.16 L375.95,324.48 L377.78,323.84 L379.61,323.21 L381.44,322.61 L383.27,322.03 L385.10,321.47 L386.93,320.93 L388.76,320.41 L390.59,319.90 L392.43,319.42 L394.26,318.95 L396.09,318.51 L397.92,318.07 L399.75,317.65 L401.58,317.25 L403.41,316.86 L405.24,316.49 L407.07,316.13 L408.91,315.78 L410.74,315.45 L412.57,315.13 L414.40,314.82 L416.23,314.52 L418.06,314.23 L419.89,313.95 L421.72,313.68 L423.55,313.43 L425.38,313.18 L427.22,312.94 L429.05,312.71 L430.88,312.49 L432.71,312.27 L434.54,312.07 L436.37,311.87 L438.20,311.68 L440.03,311.49 L441.86,311.32 L443.70,311.15 L445.53,310.98 L447.36,310.83 L449.19,310.67 L451.02,310.53 L452.85,310.39 L454.68,310.25 L456.51,310.12 L458.34,310.00 L460.18,309.88 L462.01,309.76 L463.84,309.65 L465.67,309.54 L467.50,309.44 L469.33,309.34 L471.16,309.24 L472.99,309.15 L474.82,309.07 L476.66,308.98 L478.49,308.90 L480.32,308.82 L482.15,308.75 L483.98,308.68 L485.81,308.61 L487.64,308.54 L489.47,308.48 L491.30,308.42 L493.13,308.36 L494.97,308.30 L496.80,308.25 L498.63,308.20 L500.46,308.15 L502.29,308.10 L504.12,308.05 L505.95,308.01 L507.78,307.97 L509.61,307.93 L511.45,307.89 L513.28,307.85 L515.11,307.82 L516.94,307.79 L518.77,307.76 L520.60,307.73 L522.43,307.70 L524.26,307.67 L526.09,307.64 L527.93,307.62 L529.76,307.59 L531.59,307.57 L533.42,307.55 L535.25,307.53 L537.08,307.51 L538.91,307.49 L540.74,307.47 L542.57,307.46 L544.41,307.44 L546.24,307.43 L548.07,307.41 L549.90,307.40 L551.73,307.39 L553.56,307.38 L555.39,307.36 L557.22,307.35 L559.05,307.34 L560.88,307.34 L562.72,307.33 L564.55,307.32 L566.38,307.31 L568.21,307.30 L570.04,307.30 L571.87,307.29 L573.70,307.29 L575.53,307.28 L577.36,307.28 L579.20,307.27 L581.03,307.27 L582.86,307.27 L584.69,307.26 L586.52,307.26 L588.35,307.26 L590.18,307.26 L592.01,307.26 L593.84,307.25 L595.68,307.25 L597.51,307.25 L599.34,307.25 L601.17,307.25 L603.00,307.25 L604.83,307.25 L606.66,307.25 L608.49,307.25 L610.32,307.25 L612.15,307.26 L613.99,307.26 L615.82,307.26 L617.65,307.26 L619.48,307.26 L621.31,307.26 L623.14,307.27 L624.97,307.27 L626.80,307.27 L628.63,307.27 L630.47,307.27 L632.30,307.28 L634.13,307.28 L635.96,307.28 L637.79,307.28 L639.62,307.29 L641.45,307.29 L643.28,307.29 L645.11,307.29 L646.95,307.30 L648.78,307.30 L650.61,307.30 L652.44,307.31 L654.27,307.31 L656.10,307.31 L657.93,307.31 L659.76,307.32 L661.59,307.32 L663.43,307.32 L665.26,307.33 L667.09,307.33 L668.92,307.33 L670.75,307.33 L672.58,307.34 L674.41,307.34 L676.24,307.34 L678.07,307.34 L679.90,307.35 L681.74,307.35 L683.57,307.35 L685.40,307.35 L687.23,307.35 L689.06,307.36 L690.89,307.36 L692.72,307.36 L694.55,307.36 L696.38,307.36 L698.22,307.36 L700.05,307.37 L701.88,307.37 L703.71,307.37 L705.54,307.37 L707.37,307.37 L709.20,307.37 L711.03,307.37 L712.86,307.37 L714.70,307.37 L716.53,307.37 L718.36,307.37 L720.19,307.37 L722.02,307.37 L723.85,307.37 L725.68,307.37 L727.51,307.37 L729.34,307.37 L731.17,307.37 L733.01,307.36 L734.84,307.36 L736.67,307.36 L738.50,307.36 L740.33,307.36 L742.16,307.35 L743.99,307.35 L745.82,307.35 L747.65,307.34 L749.49,307.34 L751.32,307.34 L753.15,307.33 L754.98,307.33 L756.81,307.33 L758.64,307.32 L760.47,307.32 L762.30,307.31 L764.13,307.30 L765.97,307.30 L767.80,307.29 L769.63,307.29 L771.46,307.28 L773.29,307.27 L775.12,307.27 L776.95,307.26 L778.78,307.25 L780.61,307.24 L782.45,307.23 L784.28,307.23 L786.11,307.22 L787.94,307.21 L789.77,307.20 L791.60,307.19 L793.43,307.18 L795.26,307.17 L797.09,307.16 L798.92,307.14 L800.76,307.13 L802.59,307.12 L804.42,307.11 L806.25,307.10 L808.08,307.08 L809.91,307.07 L811.74,307.05 L813.57,307.04 L815.40,307.02 L817.24,307.01 L819.07,306.99 L820.90,306.98 L822.73,306.96 L824.56,306.94 L826.39,306.93 L828.22,306.91 L830.05,306.89 L831.88,306.87 L833.72,306.85 L835.55,306.83 L837.38,306.81 L839.21,306.79 L841.04,306.77 L842.87,306.75 L844.70,306.73 L846.53,306.70 L848.36,306.68 L850.19,306.66 L852.03,306.63 L853.86,306.61 L855.69,306.58 L857.52,306.55 L859.35,306.53 L861.18,306.50 L863.01,306.47 L864.84,306.44 L866.67,306.42 L868.51,306.39 L870.34,306.36 L872.17,306.33 L874.00,306.29 L875.83,306.26 L877.66,306.23 L879.49,306.20 L881.32,306.16 L883.15,306.13 L884.99,306.09 L886.82,306.06 L888.65,306.02 L890.48,305.98 L892.31,305.94 L894.14,305.91 L895.97,305.87 L897.80,305.83 L899.63,305.78 L901.47,305.74 L903.30,305.70 L905.13,305.66 L906.96,305.61 L908.79,305.57 L910.62,305.52 L912.45,305.48 L914.28,305.43 L916.11,305.38 L917.94,305.33 L919.78,305.28 L921.61,305.23 L923.44,305.18 L925.27,305.13 L927.10,305.08 L928.93,305.02 L930.76,304.97 L932.59,304.91 L934.42,304.85 L936.26,304.80 L938.09,304.74 L939.92,304.68 L941.75,304.62 L943.58,304.56 L945.41,304.49 L947.24,304.43 L949.07,304.37 L950.90,304.30 L952.74,304.23 L954.57,304.17 L956.40,304.10 L958.23,304.03 L960.06,303.96 L961.89,303.89 L963.72,303.81 L965.55,303.74 L967.38,303.66 L969.22,303.59 L971.05,303.51 L972.88,303.43 L974.71,303.35 L976.54,303.27 L978.37,303.19 L980.20,303.11 L982.03,303.02 L983.86,302.94 L985.69,302.85 L987.53,302.76 L989.36,302.67 L991.19,302.58 L993.02,302.49 L994.85,302.40 L996.68,302.30 L998.51,302.21 L1000.34,302.11 L1002.17,302.01 L1004.01,301.91 L1005.84,301.81 L1007.67,301.71 L1009.50,301.60 L1011.33,301.50 L1013.16,301.39 L1014.99,301.28 L1016.82,301.17 L1018.65,301.06 L1020.49,300.95 L1022.32,300.83 L1024.15,300.72 L1025.98,300.60 L1027.81,300.48 L1029.64,300.36 L1031.47,300.24 L1033.30,300.11 L1035.13,299.99 L1036.96,299.86 L1038.80,299.73 L1040.63,299.60 L1042.46,299.47 L1044.29,299.33 L1046.12,299.20 L1047.95,299.06 L1049.78,298.92 L1051.61,298.78 L1053.44,298.64 L1055.28,298.50 L1057.11,298.35 L1058.94,298.20 L1060.77,298.05 L1062.60,297.90 L1062.10,300.15 L1061.60,302.34 L1061.10,304.46 L1060.60,306.53 L1060.10,308.53 L1059.60,310.49 L1059.10,312.40 L1058.60,314.25 L1058.10,316.07 L1057.60,317.84 L1057.10,319.56 L1056.60,321.25 L1056.10,322.90 L1055.60,324.52 L1055.10,326.10 L1054.60,327.65 L1054.10,329.16 L1053.60,330.65 L1053.10,332.11 L1052.60,333.54 L1052.10,334.94 L1051.60,336.32 L1051.10,337.67 L1050.60,339.00 L1050.10,340.31 L1049.60,341.59 L1049.10,342.86 L1048.60,344.10 L1048.10,345.32 L1047.60,346.53 L1047.10,347.71 L1046.60,348.88 L1046.10,350.03 L1045.60,351.17 L1045.10,352.28 L1044.60,353.39 L1044.10,354.47 L1043.60,355.54 L1043.10,356.60 L1042.60,357.64 L1042.10,358.67 L1041.60,359.69 L1041.10,360.69 L1040.60,361.68 L1040.10,362.65 L1039.60,363.61 L1039.10,364.57 L1038.60,365.51 L1038.10,366.43 L1037.60,367.35 L1037.10,368.26 L1036.60,369.15 L1036.10,370.04 L1035.60,370.91 L1035.10,371.77 L1034.60,372.63 L1034.10,373.47 L1033.60,374.30 L1033.10,375.13 L1032.60,375.94 L1032.10,376.75 L1031.60,377.54 L1031.10,378.33 L1030.60,379.11 L1030.10,379.88 L1029.60,380.64 L1029.10,381.39 L1028.60,382.14 L1028.10,382.87 L1027.60,383.60 L1027.10,384.32 L1026.60,385.03 L1026.10,385.74 L1025.60,386.43 L1025.10,387.12 L1024.60,387.81 L1024.10,388.48 L1023.60,389.15 L1023.10,389.81 L1022.60,390.46 L1022.10,391.11 L1021.60,391.74 L1021.10,392.38 L1020.60,393.00 L1020.10,393.62 L1019.60,394.23 L1019.10,394.84 L1018.60,395.44 L1018.10,396.03 L1017.60,396.62 L1017.10,397.20 L1016.60,397.77 L1016.10,398.34 L1015.60,398.90 L1015.10,399.46 L1014.60,400.01 L1014.10,400.55 L1013.60,401.09 L1013.10,401.62 L1012.60,402.15 L1012.10,402.67 L1011.60,403.19 L1011.10,403.70 L1010.60,404.21 L1010.10,404.71 L1009.60,405.20 L1009.10,405.69 L1008.60,406.18 L1008.10,406.66 L1007.60,407.13 L1007.10,407.60 L1006.60,408.07 L1006.10,408.53 L1005.60,408.98 L1005.10,409.44 L1004.60,409.88 L1004.10,410.32 L1003.60,410.76 L1003.10,411.19 L1002.60,411.62 L1000.77,413.15 L998.94,414.62 L997.11,416.04 L995.28,417.40 L993.44,418.71 L991.61,419.97 L989.78,421.19 L987.95,422.36 L986.12,423.49 L984.29,424.57 L982.46,425.62 L980.63,426.62 L978.80,427.59 L976.96,428.53 L975.13,429.42 L973.30,430.29 L971.47,431.12 L969.64,431.92 L967.81,432.70 L965.98,433.44 L964.15,434.16 L962.32,434.85 L960.49,435.51 L958.65,436.15 L956.82,436.77 L954.99,437.36 L953.16,437.93 L951.33,438.49 L949.50,439.02 L947.67,439.53 L945.84,440.02 L944.01,440.50 L942.17,440.96 L940.34,441.40 L938.51,441.83 L936.68,442.24 L934.85,442.63 L933.02,443.02 L931.19,443.38 L929.36,443.74 L927.53,444.08 L925.69,444.41 L923.86,444.73 L922.03,445.04 L920.20,445.34 L918.37,445.62 L916.54,445.90 L914.71,446.16 L912.88,446.42 L911.05,446.67 L909.22,446.91 L907.38,447.14 L905.55,447.37 L903.72,447.58 L901.89,447.79 L900.06,448.00 L898.23,448.19 L896.40,448.38 L894.57,448.56 L892.74,448.74 L890.90,448.91 L889.07,449.08 L887.24,449.24 L885.41,449.39 L883.58,449.54 L881.75,449.69 L879.92,449.83 L878.09,449.97 L876.26,450.10 L874.42,450.23 L872.59,450.35 L870.76,450.47 L868.93,450.59 L867.10,450.70 L865.27,450.81 L863.44,450.92 L861.61,451.03 L859.78,451.13 L857.94,451.23 L856.11,451.32 L854.28,451.41 L852.45,451.51 L850.62,451.59 L848.79,451.68 L846.96,451.76 L845.13,451.85 L843.30,451.93 L841.47,452.00 L839.63,452.08 L837.80,452.15 L835.97,452.23 L834.14,452.30 L832.31,452.37 L830.48,452.43 L828.65,452.50 L826.82,452.56 L824.99,452.63 L823.15,452.69 L821.32,452.75 L819.49,452.81 L817.66,452.87 L815.83,452.93 L814.00,452.98 L812.17,453.04 L810.34,453.09 L808.51,453.15 L806.67,453.20 L804.84,453.25 L803.01,453.30 L801.18,453.35 L799.35,453.40 L797.52,453.45 L795.69,453.50 L793.86,453.55 L792.03,453.60 L790.19,453.64 L788.36,453.69 L786.53,453.74 L784.70,453.78 L782.87,453.83 L781.04,453.87 L779.21,453.91 L777.38,453.96 L775.55,454.00 L773.72,454.04 L771.88,454.08 L770.05,454.13 L768.22,454.17 L766.39,454.21 L764.56,454.25 L762.73,454.29 L760.90,454.33 L759.07,454.37 L757.24,454.41 L755.40,454.45 L753.57,454.49 L751.74,454.53 L749.91,454.57 L748.08,454.61 L746.25,454.65 L744.42,454.69 L742.59,454.73 L740.76,454.76 L738.92,454.80 L737.09,454.84 L735.26,454.88 L733.43,454.92 L731.60,454.96 L729.77,454.99 L727.94,455.03 L726.11,455.07 L724.28,455.11 L722.45,455.15 L720.61,455.18 L718.78,455.22 L716.95,455.26 L715.12,455.30 L713.29,455.34 L711.46,455.37 L709.63,455.41 L707.80,455.45 L705.97,455.49 L704.13,455.53 L702.30,455.56 L700.47,455.60 L698.64,455.64 L696.81,455.68 L694.98,455.72 L693.15,455.75 L691.32,455.79 L689.49,455.83 L687.65,455.87 L685.82,455.91 L683.99,455.94 L682.16,455.98 L680.33,456.02 L678.50,456.06 L676.67,456.10 L674.84,456.14 L673.01,456.18 L671.17,456.22 L669.34,456.25 L667.51,456.29 L665.68,456.33 L663.85,456.37 L662.02,456.41 L660.19,456.45 L658.36,456.49 L656.53,456.53 L654.70,456.57 L652.86,456.61 L651.03,456.65 L649.20,456.69 L647.37,456.73 L645.54,456.77 L643.71,456.81 L641.88,456.85 L640.05,456.89 L638.22,456.93 L636.38,456.97 L634.55,457.01 L632.72,457.05 L630.89,457.09 L629.06,457.13 L627.23,457.18 L625.40,457.22 L623.57,457.26 L621.74,457.30 L619.90,457.34 L618.07,457.38 L616.24,457.42 L614.41,457.47 L612.58,457.51 L610.75,457.55 L608.92,457.59 L607.09,457.64 L605.26,457.68 L603.43,457.72 L601.59,457.76 L599.76,457.81 L597.93,457.85 L596.10,457.89 L594.27,457.94 L592.44,457.98 L590.61,458.02 L588.78,458.07 L586.95,458.11 L585.11,458.15 L583.28,458.20 L581.45,458.24 L579.62,458.29 L577.79,458.33 L575.96,458.38 L574.13,458.42 L572.30,458.47 L570.47,458.51 L568.63,458.56 L566.80,458.60 L564.97,458.65 L563.14,458.69 L561.31,458.74 L559.48,458.78 L557.65,458.83 L555.82,458.87 L553.99,458.92 L552.15,458.97 L550.32,459.01 L548.49,459.06 L546.66,459.11 L544.83,459.15 L543.00,459.20 L541.17,459.25 L539.34,459.29 L537.51,459.34 L535.68,459.39 L533.84,459.44 L532.01,459.48 L530.18,459.53 L528.35,459.58 L526.52,459.63 L524.69,459.68 L522.86,459.72 L521.03,459.77 L519.20,459.82 L517.36,459.87 L515.53,459.92 L513.70,459.97 L511.87,460.02 L510.04,460.07 L508.21,460.12 L506.38,460.16 L504.55,460.21 L502.72,460.26 L500.88,460.31 L499.05,460.36 L497.22,460.41 L495.39,460.46 L493.56,460.51 L491.73,460.57 L489.90,460.62 L488.07,460.67 L486.24,460.72 L484.41,460.77 L482.57,460.82 L480.74,460.87 L478.91,460.92 L477.08,460.97 L475.25,461.03 L473.42,461.08 L471.59,461.13 L469.76,461.18 L467.93,461.23 L466.09,461.29 L464.26,461.34 L462.43,461.39 L460.60,461.44 L458.77,461.50 L456.94,461.55 L455.11,461.60 L453.28,461.66 L451.45,461.71 L449.61,461.76 L447.78,461.82 L445.95,461.87 L444.12,461.93 L442.29,461.98 L440.46,462.03 L438.63,462.09 L436.80,462.14 L434.97,462.20 L433.13,462.25 L431.30,462.31 L429.47,462.36 L427.64,462.42 L425.81,462.47 L423.98,462.53 L422.15,462.58 L420.32,462.64 L418.49,462.70 L416.66,462.75 L414.82,462.81 L412.99,462.86 L411.16,462.92 L409.33,462.98 L407.50,463.03 L405.67,463.09 L403.84,463.15 L402.01,463.21 L400.18,463.26 L398.34,463.32 L396.51,463.38 L394.68,463.43 L392.85,463.49 L391.02,463.55 L389.19,463.61 L387.36,463.67 L385.53,463.72 L383.70,463.78 L381.86,463.84 L380.03,463.90 L378.20,463.96 L376.37,464.02 L374.54,464.08 L372.71,464.14 L370.88,464.20 L369.05,464.26 L367.22,464.32 L365.38,464.37 L363.55,464.43 L361.72,464.49 L359.89,464.55 L358.06,464.62 L356.23,464.68 L354.40,464.74 L352.57,464.80 L350.74,464.86 L348.91,464.92 L347.07,464.98 L345.24,465.04 L343.41,465.10 L341.58,465.16 L339.75,465.23 L337.92,465.29 L336.09,465.35 L334.26,465.41 L332.43,465.47 L330.59,465.54 L328.76,465.60 L326.93,465.66 L325.10,465.72 L323.27,465.79 L321.44,465.85 L319.61,465.91 L317.78,465.98 L315.95,466.04 L314.11,466.10 L312.28,466.17 L310.45,466.23 L308.62,466.29 L306.79,466.36 L304.96,466.42 L303.13,466.49 L301.30,466.55 L299.47,466.62 L297.64,466.68 L295.80,466.74 L293.97,466.81 L292.14,466.87 L290.31,466.94 L288.48,467.01 L286.65,467.07 L284.82,467.14 L282.99,467.20 L281.16,467.27 L279.32,467.33 L277.49,467.40 L275.66,467.47 L273.83,467.53Z" fill="none" stroke="#0000ff" stroke-width="4.3" stroke-linejoin="miter" stroke-miterlimit="10"/>
<path d="M272.00,506.40 L272.50,504.09 L273.00,501.82 L273.50,499.59 L274.00,497.40 L274.50,495.25 L275.00,493.13 L275.50,491.05 L276.00,489.00 L276.50,486.98 L277.00,485.00 L277.50,483.04 L278.00,481.12 L278.50,479.22 L279.00,477.35 L279.50,475.51 L280.00,473.69 L280.50,471.90 L281.00,470.13 L281.50,468.39 L282.00,466.67 L282.50,464.97 L283.00,463.30 L283.50,461.64 L284.00,460.01 L284.50,458.40 L285.00,456.81 L285.50,455.23 L286.00,453.68 L286.50,452.14 L287.00,450.62 L287.50,449.12 L288.00,447.63 L288.50,446.17 L289.00,444.71 L289.50,443.28 L290.00,441.86 L290.50,440.45 L291.00,439.06 L291.50,437.69 L292.00,436.33 L292.50,434.98 L293.00,433.65 L293.50,432.33 L294.00,431.02 L294.50,429.73 L295.00,428.44 L295.50,427.18 L296.00,425.92 L296.50,424.68 L297.00,423.44 L297.50,422.22 L298.00,421.01 L298.50,419.82 L299.00,418.63 L299.50,417.45 L300.00,416.29 L300.50,415.14 L301.00,413.99 L301.50,412.86 L302.00,411.74 L302.50,410.62 L303.00,409.52 L303.50,408.43 L304.00,407.34 L304.50,406.27 L305.00,405.20 L305.50,404.15 L306.00,403.10 L306.50,402.06 L307.00,401.03 L307.50,400.01 L308.00,399.00 L308.50,398.00 L309.00,397.01 L309.50,396.02 L310.00,395.04 L310.50,394.07 L311.00,393.11 L311.50,392.16 L312.00,391.21 L312.50,390.28 L313.00,389.35 L313.50,388.42 L314.00,387.51 L314.50,386.60 L315.00,385.70 L315.50,384.81 L316.00,383.93 L316.50,383.05 L317.00,382.18 L317.50,381.31 L318.00,380.46 L318.50,379.61 L319.00,378.77 L319.50,377.93 L320.00,377.10 L320.50,376.28 L321.00,375.46 L321.50,374.65 L322.00,373.85 L322.50,373.05 L323.00,372.26 L323.50,371.48 L324.00,370.70 L324.50,369.93 L325.00,369.17 L325.50,368.41 L326.00,367.65 L326.50,366.91 L327.00,366.17 L327.50,365.43 L328.00,364.70 L328.50,363.98 L329.00,363.26 L329.50,362.55 L330.00,361.84 L330.50,361.14 L331.00,360.44 L331.50,359.75 L332.00,359.07 L333.83,356.61 L335.66,354.22 L337.49,351.89 L339.32,349.64 L341.16,347.44 L342.99,345.31 L344.82,343.24 L346.65,341.23 L348.48,339.28 L350.31,337.38 L352.14,335.53 L353.97,333.74 L355.80,332.00 L357.64,330.30 L359.47,328.66 L361.30,327.06 L363.13,325.51 L364.96,324.00 L366.79,322.53 L368.62,321.10 L370.45,319.72 L372.28,318.37 L374.11,317.06 L375.95,315.79 L377.78,314.56 L379.61,313.36 L381.44,312.19 L383.27,311.06 L385.10,309.96 L386.93,308.89 L388.76,307.85 L390.59,306.84 L392.43,305.86 L394.26,304.91 L396.09,303.98 L397.92,303.08 L399.75,302.21 L401.58,301.36 L403.41,300.53 L405.24,299.73 L407.07,298.95 L408.91,298.19 L410.74,297.46 L412.57,296.74 L414.40,296.05 L416.23,295.37 L418.06,294.72 L419.89,294.08 L421.72,293.46 L423.55,292.86 L425.38,292.28 L427.22,291.71 L429.05,291.16 L430.88,290.63 L432.71,290.11 L434.54,289.60 L436.37,289.11 L438.20,288.64 L440.03,288.17 L441.86,287.72 L443.70,287.29 L445.53,286.86 L447.36,286.45 L449.19,286.05 L451.02,285.66 L452.85,285.28 L454.68,284.92 L456.51,284.56 L458.34,284.22 L460.18,283.88 L462.01,283.55 L463.84,283.24 L465.67,282.93 L467.50,282.63 L469.33,282.34 L471.16,282.06 L472.99,281.79 L474.82,281.52 L476.66,281.26 L478.49,281.01 L480.32,280.77 L482.15,280.54 L483.98,280.31 L485.81,280.08 L487.64,279.87 L489.47,279.66 L491.30,279.46 L493.13,279.26 L494.97,279.07 L496.80,278.88 L498.63,278.70 L500.46,278.53 L502.29,278.36 L504.12,278.19 L505.95,278.03 L507.78,277.88 L509.61,277.73 L511.45,277.58 L513.28,277.44 L515.11,277.30 L516.94,277.17 L518.77,277.04 L520.60,276.91 L522.43,276.79 L524.26,276.67 L526.09,276.56 L527.93,276.44 L529.76,276.34 L531.59,276.23 L533.42,276.13 L535.25,276.03 L537.08,275.94 L538.91,275.84 L540.74,275.76 L542.57,275.67 L544.41,275.58 L546.24,275.50 L548.07,275.42 L549.90,275.35 L551.73,275.27 L553.56,275.20 L555.39,275.13 L557.22,275.06 L559.05,275.00 L560.88,274.93 L562.72,274.87 L564.55,274.81 L566.38,274.75 L568.21,274.70 L570.04,274.64 L571.87,274.59 L573.70,274.54 L575.53,274.49 L577.36,274.45 L579.20,274.40 L581.03,274.35 L582.86,274.31 L584.69,274.27 L586.52,274.23 L588.35,274.19 L590.18,274.15 L592.01,274.12 L593.84,274.08 L595.68,274.05 L597.51,274.01 L599.34,273.98 L601.17,273.95 L603.00,273.92 L604.83,273.89 L606.66,273.86 L608.49,273.83 L610.32,273.81 L612.15,273.78 L613.99,273.76 L615.82,273.73 L617.65,273.71 L619.48,273.69 L621.31,273.67 L623.14,273.65 L624.97,273.63 L626.80,273.61 L628.63,273.59 L630.47,273.57 L632.30,273.55 L634.13,273.54 L635.96,273.52 L637.79,273.50 L639.62,273.49 L641.45,273.47 L643.28,273.46 L645.11,273.44 L646.95,273.43 L648.78,273.42 L650.61,273.40 L652.44,273.39 L654.27,273.38 L656.10,273.37 L657.93,273.36 L659.76,273.34 L661.59,273.33 L663.43,273.32 L665.26,273.31 L667.09,273.30 L668.92,273.29 L670.75,273.28 L672.58,273.27 L674.41,273.27 L676.24,273.26 L678.07,273.25 L679.90,273.24 L681.74,273.23 L683.57,273.22 L685.40,273.21 L687.23,273.21 L689.06,273.20 L690.89,273.19 L692.72,273.18 L694.55,273.18 L696.38,273.17 L698.22,273.16 L700.05,273.15 L701.88,273.15 L703.71,273.14 L705.54,273.13 L707.37,273.12 L709.20,273.12 L711.03,273.11 L712.86,273.10 L714.70,273.09 L716.53,273.09 L718.36,273.08 L720.19,273.07 L722.02,273.06 L723.85,273.06 L725.68,273.05 L727.51,273.04 L729.34,273.03 L731.17,273.02 L733.01,273.02 L734.84,273.01 L736.67,273.00 L738.50,272.99 L740.33,272.98 L742.16,272.97 L743.99,272.96 L745.82,272.95 L747.65,272.95 L749.49,272.94 L751.32,272.93 L753.15,272.92 L754.98,272.91 L756.81,272.90 L758.64,272.88 L760.47,272.87 L762.30,272.86 L764.13,272.85 L765.97,272.84 L767.80,272.83 L769.63,272.82 L771.46,272.80 L773.29,272.79 L775.12,272.78 L776.95,272.76 L778.78,272.75 L780.61,272.74 L782.45,272.72 L784.28,272.71 L786.11,272.69 L787.94,272.68 L789.77,272.66 L791.60,272.64 L793.43,272.63 L795.26,272.61 L797.09,272.59 L798.92,272.58 L800.76,272.56 L802.59,272.54 L804.42,272.52 L806.25,272.50 L808.08,272.48 L809.91,272.46 L811.74,272.44 L813.57,272.42 L815.40,272.40 L817.24,272.38 L819.07,272.36 L820.90,272.33 L822.73,272.31 L824.56,272.29 L826.39,272.26 L828.22,272.24 L830.05,272.21 L831.88,272.18 L833.72,272.16 L835.55,272.13 L837.38,272.10 L839.21,272.07 L841.04,272.05 L842.87,272.02 L844.70,271.99 L846.53,271.96 L848.36,271.93 L850.19,271.89 L852.03,271.86 L853.86,271.83 L855.69,271.79 L857.52,271.76 L859.35,271.72 L861.18,271.69 L863.01,271.65 L864.84,271.62 L866.67,271.58 L868.51,271.54 L870.34,271.50 L872.17,271.46 L874.00,271.42 L875.83,271.38 L877.66,271.34 L879.49,271.29 L881.32,271.25 L883.15,271.20 L884.99,271.16 L886.82,271.11 L888.65,271.07 L890.48,271.02 L892.31,270.97 L894.14,270.92 L895.97,270.87 L897.80,270.82 L899.63,270.77 L901.47,270.71 L903.30,270.66 L905.13,270.60 L906.96,270.55 L908.79,270.49 L910.62,270.43 L912.45,270.37 L914.28,270.31 L916.11,270.25 L917.94,270.19 L919.78,270.13 L921.61,270.07 L923.44,270.00 L925.27,269.94 L927.10,269.87 L928.93,269.80 L930.76,269.73 L932.59,269.66 L934.42,269.59 L936.26,269.52 L938.09,269.45 L939.92,269.37 L941.75,269.29 L943.58,269.22 L945.41,269.14 L947.24,269.06 L949.07,268.98 L950.90,268.90 L952.74,268.82 L954.57,268.73 L956.40,268.65 L958.23,268.56 L960.06,268.47 L961.89,268.38 L963.72,268.29 L965.55,268.20 L967.38,268.11 L969.22,268.01 L971.05,267.92 L972.88,267.82 L974.71,267.72 L976.54,267.62 L978.37,267.52 L980.20,267.41 L982.03,267.31 L983.86,267.20 L985.69,267.10 L987.53,266.99 L989.36,266.88 L991.19,266.76 L993.02,266.65 L994.85,266.53 L996.68,266.42 L998.51,266.30 L1000.34,266.18 L1002.17,266.06 L1004.01,265.93 L1005.84,265.81 L1007.67,265.68 L1009.50,265.55 L1011.33,265.42 L1013.16,265.29 L1014.99,265.16 L1016.82,265.02 L1018.65,264.88 L1020.49,264.74 L1022.32,264.60 L1024.15,264.46 L1025.98,264.32 L1027.81,264.17 L1029.64,264.02 L1031.47,263.87 L1033.30,263.72 L1035.13,263.56 L1036.96,263.41 L1038.80,263.25 L1040.63,263.09 L1042.46,262.93 L1044.29,262.76 L1046.12,262.60 L1047.95,262.43 L1049.78,262.26 L1051.61,262.08 L1053.44,261.91 L1055.28,261.73 L1057.11,261.55 L1058.94,261.37 L1060.77,261.19 L1062.60,261.00 L1062.10,262.89 L1061.60,264.77 L1061.10,266.63 L1060.60,268.48 L1060.10,270.31 L1059.60,272.12 L1059.10,273.92 L1058.60,275.71 L1058.10,277.47 L1057.60,279.23 L1057.10,280.96 L1056.60,282.69 L1056.10,284.39 L1055.60,286.09 L1055.10,287.76 L1054.60,289.43 L1054.10,291.08 L1053.60,292.71 L1053.10,294.34 L1052.60,295.94 L1052.10,297.54 L1051.60,299.12 L1051.10,300.68 L1050.60,302.24 L1050.10,303.78 L1049.60,305.30 L1049.10,306.82 L1048.60,308.32 L1048.10,309.80 L1047.60,311.28 L1047.10,312.74 L1046.60,314.19 L1046.10,315.63 L1045.60,317.05 L1045.10,318.46 L1044.60,319.86 L1044.10,321.25 L1043.60,322.63 L1043.10,323.99 L1042.60,325.35 L1042.10,326.69 L1041.60,328.02 L1041.10,329.34 L1040.60,330.64 L1040.10,331.94 L1039.60,333.22 L1039.10,334.50 L1038.60,335.76 L1038.10,337.01 L1037.60,338.25 L1037.10,339.48 L1036.60,340.70 L1036.10,341.91 L1035.60,343.11 L1035.10,344.30 L1034.60,345.48 L1034.10,346.65 L1033.60,347.81 L1033.10,348.96 L1032.60,350.10 L1032.10,351.22 L1031.60,352.34 L1031.10,353.45 L1030.60,354.55 L1030.10,355.64 L1029.60,356.73 L1029.10,357.80 L1028.60,358.86 L1028.10,359.92 L1027.60,360.96 L1027.10,362.00 L1026.60,363.02 L1026.10,364.04 L1025.60,365.05 L1025.10,366.05 L1024.60,367.04 L1024.10,368.03 L1023.60,369.00 L1023.10,369.97 L1022.60,370.93 L1022.10,371.88 L1021.60,372.82 L1021.10,373.76 L1020.60,374.68 L1020.10,375.60 L1019.60,376.51 L1019.10,377.42 L1018.60,378.31 L1018.10,379.20 L1017.60,380.08 L1017.10,380.95 L1016.60,381.82 L1016.10,382.68 L1015.60,383.53 L1015.10,384.37 L1014.60,385.20 L1014.10,386.03 L1013.60,386.85 L1013.10,387.67 L1012.60,388.48 L1012.10,389.28 L1011.60,390.07 L1011.10,390.86 L1010.60,391.64 L1010.10,392.41 L1009.60,393.18 L1009.10,393.94 L1008.60,394.70 L1008.10,395.44 L1007.60,396.18 L1007.10,396.92 L1006.60,397.65 L1006.10,398.37 L1005.60,399.09 L1005.10,399.80 L1004.60,400.50 L1004.10,401.20 L1003.60,401.89 L1003.10,402.58 L1002.60,403.26 L1000.77,405.70 L998.94,408.07 L997.11,410.37 L995.28,412.59 L993.44,414.75 L991.61,416.84 L989.78,418.87 L987.95,420.83 L986.12,422.73 L984.29,424.58 L982.46,426.37 L980.63,428.10 L978.80,429.78 L976.96,431.41 L975.13,432.99 L973.30,434.53 L971.47,436.01 L969.64,437.45 L967.81,438.85 L965.98,440.20 L964.15,441.52 L962.32,442.79 L960.49,444.02 L958.65,445.22 L956.82,446.38 L954.99,447.51 L953.16,448.60 L951.33,449.66 L949.50,450.69 L947.67,451.69 L945.84,452.65 L944.01,453.59 L942.17,454.50 L940.34,455.39 L938.51,456.24 L936.68,457.07 L934.85,457.88 L933.02,458.66 L931.19,459.42 L929.36,460.16 L927.53,460.88 L925.69,461.57 L923.86,462.25 L922.03,462.90 L920.20,463.54 L918.37,464.16 L916.54,464.76 L914.71,465.34 L912.88,465.90 L911.05,466.45 L909.22,466.99 L907.38,467.51 L905.55,468.01 L903.72,468.50 L901.89,468.98 L900.06,469.44 L898.23,469.89 L896.40,470.32 L894.57,470.75 L892.74,471.16 L890.90,471.56 L889.07,471.95 L887.24,472.33 L885.41,472.70 L883.58,473.06 L881.75,473.41 L879.92,473.75 L878.09,474.08 L876.26,474.40 L874.42,474.72 L872.59,475.02 L870.76,475.32 L868.93,475.61 L867.10,475.89 L865.27,476.17 L863.44,476.44 L861.61,476.70 L859.78,476.95 L857.94,477.20 L856.11,477.44 L854.28,477.68 L852.45,477.91 L850.62,478.14 L848.79,478.36 L846.96,478.57 L845.13,478.78 L843.30,478.98 L841.47,479.18 L839.63,479.38 L837.80,479.57 L835.97,479.75 L834.14,479.94 L832.31,480.11 L830.48,480.29 L828.65,480.46 L826.82,480.63 L824.99,480.79 L823.15,480.95 L821.32,481.11 L819.49,481.26 L817.66,481.41 L815.83,481.56 L814.00,481.70 L812.17,481.84 L810.34,481.98 L808.51,482.12 L806.67,482.25 L804.84,482.38 L803.01,482.51 L801.18,482.64 L799.35,482.76 L797.52,482.89 L795.69,483.01 L793.86,483.13 L792.03,483.24 L790.19,483.36 L788.36,483.47 L786.53,483.58 L784.70,483.69 L782.87,483.80 L781.04,483.90 L779.21,484.01 L777.38,484.11 L775.55,484.21 L773.72,484.32 L771.88,484.41 L770.05,484.51 L768.22,484.61 L766.39,484.70 L764.56,484.80 L762.73,484.89 L760.90,484.99 L759.07,485.08 L757.24,485.17 L755.40,485.26 L753.57,485.34 L751.74,485.43 L749.91,485.52 L748.08,485.61 L746.25,485.69 L744.42,485.77 L742.59,485.86 L740.76,485.94 L738.92,486.02 L737.09,486.11 L735.26,486.19 L733.43,486.27 L731.60,486.35 L729.77,486.43 L727.94,486.51 L726.11,486.58 L724.28,486.66 L722.45,486.74 L720.61,486.82 L718.78,486.89 L716.95,486.97 L715.12,487.04 L713.29,487.12 L711.46,487.19 L709.63,487.27 L707.80,487.34 L705.97,487.42 L704.13,487.49 L702.30,487.56 L700.47,487.64 L698.64,487.71 L696.81,487.78 L694.98,487.86 L693.15,487.93 L691.32,488.00 L689.49,488.07 L687.65,488.14 L685.82,488.22 L683.99,488.29 L682.16,488.36 L680.33,488.43 L678.50,488.50 L676.67,488.57 L674.84,488.64 L673.01,488.71 L671.17,488.78 L669.34,488.85 L667.51,488.92 L665.68,488.99 L663.85,489.06 L662.02,489.13 L660.19,489.20 L658.36,489.27 L656.53,489.34 L654.70,489.41 L652.86,489.48 L651.03,489.55 L649.20,489.62 L647.37,489.69 L645.54,489.76 L643.71,489.83 L641.88,489.90 L640.05,489.97 L638.22,490.04 L636.38,490.11 L634.55,490.18 L632.72,490.25 L630.89,490.32 L629.06,490.39 L627.23,490.46 L625.40,490.53 L623.57,490.60 L621.74,490.67 L619.90,490.74 L618.07,490.81 L616.24,490.88 L614.41,490.95 L612.58,491.02 L610.75,491.09 L608.92,491.16 L607.09,491.24 L605.26,491.31 L603.43,491.38 L601.59,491.45 L599.76,491.52 L597.93,491.59 L596.10,491.66 L594.27,491.73 L592.44,491.80 L590.61,491.87 L588.78,491.95 L586.95,492.02 L585.11,492.09 L583.28,492.16 L581.45,492.23 L579.62,492.31 L577.79,492.38 L575.96,492.45 L574.13,492.52 L572.30,492.59 L570.47,492.67 L568.63,492.74 L566.80,492.81 L564.97,492.89 L563.14,492.96 L561.31,493.03 L559.48,493.10 L557.65,493.18 L555.82,493.25 L553.99,493.33 L552.15,493.40 L550.32,493.47 L548.49,493.55 L546.66,493.62 L544.83,493.70 L543.00,493.77 L541.17,493.84 L539.34,493.92 L537.51,493.99 L535.68,494.07 L533.84,494.14 L532.01,494.22 L530.18,494.29 L528.35,494.37 L526.52,494.44 L524.69,494.52 L522.86,494.60 L521.03,494.67 L519.20,494.75 L517.36,494.82 L515.53,494.90 L513.70,494.98 L511.87,495.05 L510.04,495.13 L508.21,495.21 L506.38,495.29 L504.55,495.36 L502.72,495.44 L500.88,495.52 L499.05,495.60 L497.22,495.67 L495.39,495.75 L493.56,495.83 L491.73,495.91 L489.90,495.99 L488.07,496.06 L486.24,496.14 L484.41,496.22 L482.57,496.30 L480.74,496.38 L478.91,496.46 L477.08,496.54 L475.25,496.62 L473.42,496.70 L471.59,496.78 L469.76,496.86 L467.93,496.94 L466.09,497.02 L464.26,497.10 L462.43,497.18 L460.60,497.26 L458.77,497.34 L456.94,497.42 L455.11,497.50 L453.28,497.58 L451.45,497.67 L449.61,497.75 L447.78,497.83 L445.95,497.91 L444.12,497.99 L442.29,498.08 L440.46,498.16 L438.63,498.24 L436.80,498.32 L434.97,498.41 L433.13,498.49 L431.30,498.57 L429.47,498.66 L427.64,498.74 L425.81,498.82 L423.98,498.91 L422.15,498.99 L420.32,499.07 L418.49,499.16 L416.66,499.24 L414.82,499.33 L412.99,499.41 L411.16,499.50 L409.33,499.58 L407.50,499.67 L405.67,499.75 L403.84,499.84 L402.01,499.92 L400.18,500.01 L398.34,500.10 L396.51,500.18 L394.68,500.27 L392.85,500.35 L391.02,500.44 L389.19,500.53 L387.36,500.61 L385.53,500.70 L383.70,500.79 L381.86,500.88 L380.03,500.96 L378.20,501.05 L376.37,501.14 L374.54,501.23 L372.71,501.32 L370.88,501.40 L369.05,501.49 L367.22,501.58 L365.38,501.67 L363.55,501.76 L361.72,501.85 L359.89,501.94 L358.06,502.03 L356.23,502.12 L354.40,502.20 L352.57,502.29 L350.74,502.38 L348.91,502.47 L347.07,502.56 L345.24,502.66 L343.41,502.75 L341.58,502.84 L339.75,502.93 L337.92,503.02 L336.09,503.11 L334.26,503.20 L332.43,503.29 L330.59,503.38 L328.76,503.48 L326.93,503.57 L325.10,503.66 L323.27,503.75 L321.44,503.85 L319.61,503.94 L317.78,504.03 L315.95,504.12 L314.11,504.22 L312.28,504.31 L310.45,504.40 L308.62,504.50 L306.79,504.59 L304.96,504.68 L303.13,504.78 L301.30,504.87 L299.47,504.97 L297.64,505.06 L295.80,505.16 L293.97,505.25 L292.14,505.35 L290.31,505.44 L288.48,505.54 L286.65,505.63 L284.82,505.73 L282.99,505.82 L281.16,505.92 L279.32,506.01 L277.49,506.11 L275.66,506.21 L273.83,506.30Z" fill="none" stroke="#ff00ff" stroke-width="4.3" stroke-linejoin="miter" stroke-miterlimit="10"/>
<path d="M272.00,542.90 L272.50,540.57 L273.00,538.27 L273.50,536.00 L274.00,533.77 L274.50,531.56 L275.00,529.39 L275.50,527.24 L276.00,525.12 L276.50,523.03 L277.00,520.97 L277.50,518.93 L278.00,516.92 L278.50,514.93 L279.00,512.97 L279.50,511.03 L280.00,509.12 L280.50,507.22 L281.00,505.35 L281.50,503.50 L282.00,501.67 L282.50,499.87 L283.00,498.08 L283.50,496.31 L284.00,494.56 L284.50,492.83 L285.00,491.12 L285.50,489.42 L286.00,487.75 L286.50,486.09 L287.00,484.44 L287.50,482.82 L288.00,481.21 L288.50,479.61 L289.00,478.03 L289.50,476.47 L290.00,474.92 L290.50,473.39 L291.00,471.87 L291.50,470.36 L292.00,468.87 L292.50,467.39 L293.00,465.92 L293.50,464.47 L294.00,463.03 L294.50,461.60 L295.00,460.19 L295.50,458.79 L296.00,457.39 L296.50,456.02 L297.00,454.65 L297.50,453.29 L298.00,451.94 L298.50,450.61 L299.00,449.29 L299.50,447.97 L300.00,446.67 L300.50,445.38 L301.00,444.09 L301.50,442.82 L302.00,441.56 L302.50,440.31 L303.00,439.06 L303.50,437.83 L304.00,436.60 L304.50,435.39 L305.00,434.18 L305.50,432.98 L306.00,431.79 L306.50,430.61 L307.00,429.44 L307.50,428.28 L308.00,427.12 L308.50,425.98 L309.00,424.84 L309.50,423.71 L310.00,422.58 L310.50,421.47 L311.00,420.36 L311.50,419.26 L312.00,418.17 L312.50,417.08 L313.00,416.01 L313.50,414.94 L314.00,413.87 L314.50,412.82 L315.00,411.77 L315.50,410.73 L316.00,409.69 L316.50,408.67 L317.00,407.65 L317.50,406.63 L318.00,405.62 L318.50,404.62 L319.00,403.63 L319.50,402.64 L320.00,401.66 L320.50,400.68 L321.00,399.71 L321.50,398.75 L322.00,397.79 L322.50,396.84 L323.00,395.90 L323.50,394.96 L324.00,394.03 L324.50,393.10 L325.00,392.18 L325.50,391.26 L326.00,390.36 L326.50,389.45 L327.00,388.55 L327.50,387.66 L328.00,386.77 L328.50,385.89 L329.00,385.02 L329.50,384.15 L330.00,383.28 L330.50,382.42 L331.00,381.57 L331.50,380.72 L332.00,379.87 L333.83,376.83 L335.66,373.85 L337.49,370.93 L339.32,368.08 L341.16,365.29 L342.99,362.56 L344.82,359.90 L346.65,357.29 L348.48,354.73 L350.31,352.23 L352.14,349.79 L353.97,347.39 L355.80,345.05 L357.64,342.76 L359.47,340.52 L361.30,338.32 L363.13,336.17 L364.96,334.07 L366.79,332.01 L368.62,330.00 L370.45,328.03 L372.28,326.10 L374.11,324.21 L375.95,322.36 L377.78,320.55 L379.61,318.78 L381.44,317.05 L383.27,315.35 L385.10,313.69 L386.93,312.07 L388.76,310.48 L390.59,308.92 L392.43,307.40 L394.26,305.91 L396.09,304.45 L397.92,303.02 L399.75,301.62 L401.58,300.26 L403.41,298.92 L405.24,297.61 L407.07,296.32 L408.91,295.07 L410.74,293.84 L412.57,292.64 L414.40,291.46 L416.23,290.31 L418.06,289.18 L419.89,288.08 L421.72,287.00 L423.55,285.94 L425.38,284.91 L427.22,283.90 L429.05,282.91 L430.88,281.94 L432.71,280.99 L434.54,280.06 L436.37,279.15 L438.20,278.27 L440.03,277.40 L441.86,276.54 L443.70,275.71 L445.53,274.90 L447.36,274.10 L449.19,273.32 L451.02,272.56 L452.85,271.81 L454.68,271.08 L456.51,270.36 L458.34,269.66 L460.18,268.98 L462.01,268.31 L463.84,267.65 L465.67,267.01 L467.50,266.39 L469.33,265.77 L471.16,265.17 L472.99,264.58 L474.82,264.01 L476.66,263.45 L478.49,262.90 L480.32,262.36 L482.15,261.83 L483.98,261.32 L485.81,260.81 L487.64,260.32 L489.47,259.84 L491.30,259.37 L493.13,258.91 L494.97,258.46 L496.80,258.02 L498.63,257.58 L500.46,257.16 L502.29,256.75 L504.12,256.35 L505.95,255.95 L507.78,255.57 L509.61,255.19 L511.45,254.82 L513.28,254.46 L515.11,254.10 L516.94,253.76 L518.77,253.42 L520.60,253.09 L522.43,252.77 L524.26,252.45 L526.09,252.15 L527.93,251.84 L529.76,251.55 L531.59,251.26 L533.42,250.98 L535.25,250.70 L537.08,250.43 L538.91,250.17 L540.74,249.91 L542.57,249.66 L544.41,249.42 L546.24,249.18 L548.07,248.94 L549.90,248.71 L551.73,248.49 L553.56,248.27 L555.39,248.05 L557.22,247.84 L559.05,247.64 L560.88,247.44 L562.72,247.24 L564.55,247.05 L566.38,246.87 L568.21,246.68 L570.04,246.51 L571.87,246.33 L573.70,246.16 L575.53,246.00 L577.36,245.84 L579.20,245.68 L581.03,245.52 L582.86,245.37 L584.69,245.22 L586.52,245.08 L588.35,244.94 L590.18,244.80 L592.01,244.67 L593.84,244.54 L595.68,244.41 L597.51,244.28 L599.34,244.16 L601.17,244.04 L603.00,243.93 L604.83,243.81 L606.66,243.70 L608.49,243.59 L610.32,243.49 L612.15,243.38 L613.99,243.28 L615.82,243.19 L617.65,243.09 L619.48,243.00 L621.31,242.91 L623.14,242.82 L624.97,242.73 L626.80,242.64 L628.63,242.56 L630.47,242.48 L632.30,242.40 L634.13,242.32 L635.96,242.25 L637.79,242.18 L639.62,242.10 L641.45,242.03 L643.28,241.97 L645.11,241.90 L646.95,241.84 L648.78,241.77 L650.61,241.71 L652.44,241.65 L654.27,241.59 L656.10,241.53 L657.93,241.48 L659.76,241.42 L661.59,241.37 L663.43,241.32 L665.26,241.27 L667.09,241.22 L668.92,241.17 L670.75,241.12 L672.58,241.08 L674.41,241.03 L676.24,240.99 L678.07,240.94 L679.90,240.90 L681.74,240.86 L683.57,240.82 L685.40,240.78 L687.23,240.74 L689.06,240.71 L690.89,240.67 L692.72,240.64 L694.55,240.60 L696.38,240.57 L698.22,240.53 L700.05,240.50 L701.88,240.47 L703.71,240.44 L705.54,240.41 L707.37,240.38 L709.20,240.35 L711.03,240.32 L712.86,240.29 L714.70,240.26 L716.53,240.23 L718.36,240.21 L720.19,240.18 L722.02,240.16 L723.85,240.13 L725.68,240.11 L727.51,240.08 L729.34,240.06 L731.17,240.03 L733.01,240.01 L734.84,239.99 L736.67,239.96 L738.50,239.94 L740.33,239.92 L742.16,239.89 L743.99,239.87 L745.82,239.85 L747.65,239.83 L749.49,239.81 L751.32,239.79 L753.15,239.77 L754.98,239.74 L756.81,239.72 L758.64,239.70 L760.47,239.68 L762.30,239.66 L764.13,239.64 L765.97,239.62 L767.80,239.60 L769.63,239.58 L771.46,239.56 L773.29,239.54 L775.12,239.52 L776.95,239.49 L778.78,239.47 L780.61,239.45 L782.45,239.43 L784.28,239.41 L786.11,239.39 L787.94,239.37 L789.77,239.35 L791.60,239.32 L793.43,239.30 L795.26,239.28 L797.09,239.26 L798.92,239.23 L800.76,239.21 L802.59,239.19 L804.42,239.16 L806.25,239.14 L808.08,239.11 L809.91,239.09 L811.74,239.07 L813.57,239.04 L815.40,239.01 L817.24,238.99 L819.07,238.96 L820.90,238.93 L822.73,238.91 L824.56,238.88 L826.39,238.85 L828.22,238.82 L830.05,238.79 L831.88,238.76 L833.72,238.73 L835.55,238.70 L837.38,238.67 L839.21,238.64 L841.04,238.61 L842.87,238.58 L844.70,238.54 L846.53,238.51 L848.36,238.47 L850.19,238.44 L852.03,238.40 L853.86,238.37 L855.69,238.33 L857.52,238.29 L859.35,238.25 L861.18,238.21 L863.01,238.17 L864.84,238.13 L866.67,238.09 L868.51,238.05 L870.34,238.01 L872.17,237.96 L874.00,237.92 L875.83,237.87 L877.66,237.83 L879.49,237.78 L881.32,237.73 L883.15,237.68 L884.99,237.63 L886.82,237.58 L888.65,237.53 L890.48,237.48 L892.31,237.42 L894.14,237.37 L895.97,237.32 L897.80,237.26 L899.63,237.20 L901.47,237.14 L903.30,237.08 L905.13,237.02 L906.96,236.96 L908.79,236.90 L910.62,236.84 L912.45,236.77 L914.28,236.70 L916.11,236.64 L917.94,236.57 L919.78,236.50 L921.61,236.43 L923.44,236.36 L925.27,236.28 L927.10,236.21 L928.93,236.13 L930.76,236.06 L932.59,235.98 L934.42,235.90 L936.26,235.82 L938.09,235.74 L939.92,235.65 L941.75,235.57 L943.58,235.48 L945.41,235.40 L947.24,235.31 L949.07,235.22 L950.90,235.12 L952.74,235.03 L954.57,234.94 L956.40,234.84 L958.23,234.74 L960.06,234.64 L961.89,234.54 L963.72,234.44 L965.55,234.34 L967.38,234.23 L969.22,234.12 L971.05,234.01 L972.88,233.90 L974.71,233.79 L976.54,233.68 L978.37,233.56 L980.20,233.44 L982.03,233.32 L983.86,233.20 L985.69,233.08 L987.53,232.95 L989.36,232.83 L991.19,232.70 L993.02,232.57 L994.85,232.44 L996.68,232.30 L998.51,232.17 L1000.34,232.03 L1002.17,231.89 L1004.01,231.75 L1005.84,231.60 L1007.67,231.45 L1009.50,231.31 L1011.33,231.16 L1013.16,231.00 L1014.99,230.85 L1016.82,230.69 L1018.65,230.53 L1020.49,230.37 L1022.32,230.21 L1024.15,230.04 L1025.98,229.87 L1027.81,229.70 L1029.64,229.53 L1031.47,229.36 L1033.30,229.18 L1035.13,229.00 L1036.96,228.82 L1038.80,228.63 L1040.63,228.45 L1042.46,228.26 L1044.29,228.06 L1046.12,227.87 L1047.95,227.67 L1049.78,227.47 L1051.61,227.27 L1053.44,227.07 L1055.28,226.86 L1057.11,226.65 L1058.94,226.43 L1060.77,226.22 L1062.60,226.00 L1062.10,227.96 L1061.60,229.91 L1061.10,231.85 L1060.60,233.77 L1060.10,235.68 L1059.60,237.58 L1059.10,239.46 L1058.60,241.33 L1058.10,243.18 L1057.60,245.03 L1057.10,246.86 L1056.60,248.68 L1056.10,250.48 L1055.60,252.27 L1055.10,254.05 L1054.60,255.82 L1054.10,257.58 L1053.60,259.32 L1053.10,261.05 L1052.60,262.77 L1052.10,264.48 L1051.60,266.17 L1051.10,267.86 L1050.60,269.53 L1050.10,271.19 L1049.60,272.84 L1049.10,274.48 L1048.60,276.10 L1048.10,277.72 L1047.60,279.32 L1047.10,280.91 L1046.60,282.49 L1046.10,284.06 L1045.60,285.62 L1045.10,287.17 L1044.60,288.71 L1044.10,290.24 L1043.60,291.75 L1043.10,293.26 L1042.60,294.76 L1042.10,296.24 L1041.60,297.72 L1041.10,299.18 L1040.60,300.64 L1040.10,302.08 L1039.60,303.51 L1039.10,304.94 L1038.60,306.35 L1038.10,307.76 L1037.60,309.15 L1037.10,310.54 L1036.60,311.92 L1036.10,313.28 L1035.60,314.64 L1035.10,315.99 L1034.60,317.32 L1034.10,318.65 L1033.60,319.97 L1033.10,321.28 L1032.60,322.58 L1032.10,323.88 L1031.60,325.16 L1031.10,326.44 L1030.60,327.70 L1030.10,328.96 L1029.60,330.21 L1029.10,331.45 L1028.60,332.68 L1028.10,333.90 L1027.60,335.11 L1027.10,336.32 L1026.60,337.52 L1026.10,338.71 L1025.60,339.89 L1025.10,341.06 L1024.60,342.23 L1024.10,343.38 L1023.60,344.53 L1023.10,345.67 L1022.60,346.81 L1022.10,347.93 L1021.60,349.05 L1021.10,350.16 L1020.60,351.26 L1020.10,352.35 L1019.60,353.44 L1019.10,354.52 L1018.60,355.59 L1018.10,356.66 L1017.60,357.71 L1017.10,358.76 L1016.60,359.81 L1016.10,360.84 L1015.60,361.87 L1015.10,362.89 L1014.60,363.91 L1014.10,364.91 L1013.60,365.91 L1013.10,366.91 L1012.60,367.89 L1012.10,368.87 L1011.60,369.85 L1011.10,370.81 L1010.60,371.77 L1010.10,372.73 L1009.60,373.67 L1009.10,374.61 L1008.60,375.55 L1008.10,376.47 L1007.60,377.40 L1007.10,378.31 L1006.60,379.22 L1006.10,380.12 L1005.60,381.02 L1005.10,381.91 L1004.60,382.79 L1004.10,383.67 L1003.60,384.54 L1003.10,385.40 L1002.60,386.26 L1000.77,389.36 L998.94,392.38 L997.11,395.33 L995.28,398.20 L993.44,401.00 L991.61,403.74 L989.78,406.40 L987.95,409.00 L986.12,411.54 L984.29,414.01 L982.46,416.42 L980.63,418.77 L978.80,421.07 L976.96,423.30 L975.13,425.49 L973.30,427.61 L971.47,429.69 L969.64,431.72 L967.81,433.69 L965.98,435.62 L964.15,437.50 L962.32,439.34 L960.49,441.13 L958.65,442.87 L956.82,444.58 L954.99,446.24 L953.16,447.87 L951.33,449.45 L949.50,450.99 L947.67,452.50 L945.84,453.97 L944.01,455.41 L942.17,456.81 L940.34,458.18 L938.51,459.52 L936.68,460.82 L934.85,462.09 L933.02,463.34 L931.19,464.55 L929.36,465.73 L927.53,466.89 L925.69,468.02 L923.86,469.12 L922.03,470.20 L920.20,471.25 L918.37,472.27 L916.54,473.28 L914.71,474.26 L912.88,475.21 L911.05,476.15 L909.22,477.06 L907.38,477.95 L905.55,478.82 L903.72,479.67 L901.89,480.51 L900.06,481.32 L898.23,482.11 L896.40,482.89 L894.57,483.65 L892.74,484.39 L890.90,485.11 L889.07,485.82 L887.24,486.51 L885.41,487.19 L883.58,487.85 L881.75,488.50 L879.92,489.14 L878.09,489.76 L876.26,490.36 L874.42,490.95 L872.59,491.53 L870.76,492.10 L868.93,492.66 L867.10,493.20 L865.27,493.73 L863.44,494.25 L861.61,494.76 L859.78,495.26 L857.94,495.75 L856.11,496.23 L854.28,496.70 L852.45,497.15 L850.62,497.60 L848.79,498.04 L846.96,498.48 L845.13,498.90 L843.30,499.31 L841.47,499.72 L839.63,500.12 L837.80,500.51 L835.97,500.89 L834.14,501.26 L832.31,501.63 L830.48,501.99 L828.65,502.35 L826.82,502.69 L824.99,503.03 L823.15,503.37 L821.32,503.70 L819.49,504.02 L817.66,504.33 L815.83,504.64 L814.00,504.95 L812.17,505.25 L810.34,505.54 L808.51,505.83 L806.67,506.12 L804.84,506.39 L803.01,506.67 L801.18,506.94 L799.35,507.20 L797.52,507.46 L795.69,507.72 L793.86,507.97 L792.03,508.22 L790.19,508.47 L788.36,508.71 L786.53,508.94 L784.70,509.18 L782.87,509.41 L781.04,509.63 L779.21,509.85 L777.38,510.07 L775.55,510.29 L773.72,510.50 L771.88,510.71 L770.05,510.92 L768.22,511.12 L766.39,511.33 L764.56,511.52 L762.73,511.72 L760.90,511.91 L759.07,512.10 L757.24,512.29 L755.40,512.48 L753.57,512.66 L751.74,512.84 L749.91,513.02 L748.08,513.20 L746.25,513.37 L744.42,513.55 L742.59,513.72 L740.76,513.89 L738.92,514.05 L737.09,514.22 L735.26,514.38 L733.43,514.54 L731.60,514.70 L729.77,514.86 L727.94,515.02 L726.11,515.18 L724.28,515.33 L722.45,515.48 L720.61,515.63 L718.78,515.78 L716.95,515.93 L715.12,516.08 L713.29,516.22 L711.46,516.37 L709.63,516.51 L707.80,516.65 L705.97,516.79 L704.13,516.93 L702.30,517.07 L700.47,517.21 L698.64,517.34 L696.81,517.48 L694.98,517.61 L693.15,517.75 L691.32,517.88 L689.49,518.01 L687.65,518.14 L685.82,518.27 L683.99,518.40 L682.16,518.53 L680.33,518.66 L678.50,518.78 L676.67,518.91 L674.84,519.03 L673.01,519.16 L671.17,519.28 L669.34,519.41 L667.51,519.53 L665.68,519.65 L663.85,519.77 L662.02,519.89 L660.19,520.01 L658.36,520.13 L656.53,520.25 L654.70,520.37 L652.86,520.49 L651.03,520.61 L649.20,520.72 L647.37,520.84 L645.54,520.96 L643.71,521.07 L641.88,521.19 L640.05,521.30 L638.22,521.42 L636.38,521.53 L634.55,521.65 L632.72,521.76 L630.89,521.87 L629.06,521.98 L627.23,522.10 L625.40,522.21 L623.57,522.32 L621.74,522.43 L619.90,522.54 L618.07,522.65 L616.24,522.77 L614.41,522.88 L612.58,522.99 L610.75,523.10 L608.92,523.21 L607.09,523.32 L605.26,523.42 L603.43,523.53 L601.59,523.64 L599.76,523.75 L597.93,523.86 L596.10,523.97 L594.27,524.08 L592.44,524.18 L590.61,524.29 L588.78,524.40 L586.95,524.51 L585.11,524.61 L583.28,524.72 L581.45,524.83 L579.62,524.93 L577.79,525.04 L575.96,525.15 L574.13,525.25 L572.30,525.36 L570.47,525.47 L568.63,525.57 L566.80,525.68 L564.97,525.78 L563.14,525.89 L561.31,526.00 L559.48,526.10 L557.65,526.21 L555.82,526.31 L553.99,526.42 L552.15,526.52 L550.32,526.63 L548.49,526.73 L546.66,526.84 L544.83,526.94 L543.00,527.05 L541.17,527.15 L539.34,527.26 L537.51,527.36 L535.68,527.47 L533.84,527.57 L532.01,527.68 L530.18,527.78 L528.35,527.89 L526.52,527.99 L524.69,528.10 L522.86,528.20 L521.03,528.31 L519.20,528.41 L517.36,528.52 L515.53,528.62 L513.70,528.73 L511.87,528.83 L510.04,528.94 L508.21,529.04 L506.38,529.15 L504.55,529.25 L502.72,529.36 L500.88,529.46 L499.05,529.57 L497.22,529.67 L495.39,529.77 L493.56,529.88 L491.73,529.98 L489.90,530.09 L488.07,530.19 L486.24,530.30 L484.41,530.40 L482.57,530.51 L480.74,530.61 L478.91,530.72 L477.08,530.82 L475.25,530.93 L473.42,531.03 L471.59,531.14 L469.76,531.24 L467.93,531.35 L466.09,531.45 L464.26,531.56 L462.43,531.66 L460.60,531.77 L458.77,531.87 L456.94,531.98 L455.11,532.08 L453.28,532.19 L451.45,532.30 L449.61,532.40 L447.78,532.51 L445.95,532.61 L444.12,532.72 L442.29,532.82 L440.46,532.93 L438.63,533.03 L436.80,533.14 L434.97,533.25 L433.13,533.35 L431.30,533.46 L429.47,533.56 L427.64,533.67 L425.81,533.78 L423.98,533.88 L422.15,533.99 L420.32,534.09 L418.49,534.20 L416.66,534.31 L414.82,534.41 L412.99,534.52 L411.16,534.63 L409.33,534.73 L407.50,534.84 L405.67,534.95 L403.84,535.05 L402.01,535.16 L400.18,535.27 L398.34,535.37 L396.51,535.48 L394.68,535.59 L392.85,535.69 L391.02,535.80 L389.19,535.91 L387.36,536.01 L385.53,536.12 L383.70,536.23 L381.86,536.34 L380.03,536.44 L378.20,536.55 L376.37,536.66 L374.54,536.77 L372.71,536.87 L370.88,536.98 L369.05,537.09 L367.22,537.20 L365.38,537.31 L363.55,537.41 L361.72,537.52 L359.89,537.63 L358.06,537.74 L356.23,537.85 L354.40,537.96 L352.57,538.06 L350.74,538.17 L348.91,538.28 L347.07,538.39 L345.24,538.50 L343.41,538.61 L341.58,538.72 L339.75,538.82 L337.92,538.93 L336.09,539.04 L334.26,539.15 L332.43,539.26 L330.59,539.37 L328.76,539.48 L326.93,539.59 L325.10,539.70 L323.27,539.81 L321.44,539.92 L319.61,540.03 L317.78,540.14 L315.95,540.25 L314.11,540.36 L312.28,540.47 L310.45,540.58 L308.62,540.69 L306.79,540.80 L304.96,540.91 L303.13,541.02 L301.30,541.13 L299.47,541.24 L297.64,541.35 L295.80,541.46 L293.97,541.57 L292.14,541.68 L290.31,541.79 L288.48,541.90 L286.65,542.01 L284.82,542.12 L282.99,542.23 L281.16,542.34 L279.32,542.45 L277.49,542.57 L275.66,542.68 L273.83,542.79Z" fill="none" stroke="#008000" stroke-width="4.3" stroke-linejoin="miter" stroke-miterlimit="10"/>
<path d="M272.00,578.20 L272.50,576.14 L273.00,574.09 L273.50,572.07 L274.00,570.07 L274.50,568.09 L275.00,566.12 L275.50,564.18 L276.00,562.25 L276.50,560.33 L277.00,558.44 L277.50,556.56 L278.00,554.69 L278.50,552.84 L279.00,551.00 L279.50,549.18 L280.00,547.37 L280.50,545.57 L281.00,543.79 L281.50,542.01 L282.00,540.25 L282.50,538.51 L283.00,536.77 L283.50,535.05 L284.00,533.33 L284.50,531.63 L285.00,529.94 L285.50,528.26 L286.00,526.59 L286.50,524.93 L287.00,523.28 L287.50,521.64 L288.00,520.01 L288.50,518.39 L289.00,516.77 L289.50,515.17 L290.00,513.58 L290.50,512.00 L291.00,510.42 L291.50,508.86 L292.00,507.30 L292.50,505.75 L293.00,504.21 L293.50,502.68 L294.00,501.15 L294.50,499.64 L295.00,498.13 L295.50,496.63 L296.00,495.14 L296.50,493.66 L297.00,492.19 L297.50,490.72 L298.00,489.26 L298.50,487.81 L299.00,486.37 L299.50,484.93 L300.00,483.51 L300.50,482.08 L301.00,480.67 L301.50,479.27 L302.00,477.87 L302.50,476.48 L303.00,475.09 L303.50,473.72 L304.00,472.35 L304.50,470.98 L305.00,469.63 L305.50,468.28 L306.00,466.94 L306.50,465.61 L307.00,464.28 L307.50,462.96 L308.00,461.64 L308.50,460.34 L309.00,459.04 L309.50,457.74 L310.00,456.46 L310.50,455.18 L311.00,453.90 L311.50,452.63 L312.00,451.37 L312.50,450.12 L313.00,448.87 L313.50,447.63 L314.00,446.39 L314.50,445.17 L315.00,443.94 L315.50,442.73 L316.00,441.52 L316.50,440.31 L317.00,439.12 L317.50,437.92 L318.00,436.74 L318.50,435.56 L319.00,434.38 L319.50,433.22 L320.00,432.06 L320.50,430.90 L321.00,429.75 L321.50,428.61 L322.00,427.47 L322.50,426.34 L323.00,425.21 L323.50,424.09 L324.00,422.97 L324.50,421.86 L325.00,420.76 L325.50,419.66 L326.00,418.57 L326.50,417.48 L327.00,416.40 L327.50,415.33 L328.00,414.25 L328.50,413.19 L329.00,412.13 L329.50,411.08 L330.00,410.03 L330.50,408.98 L331.00,407.95 L331.50,406.91 L332.00,405.88 L333.83,402.17 L335.66,398.52 L337.49,394.93 L339.32,391.42 L341.16,387.96 L342.99,384.58 L344.82,381.25 L346.65,377.99 L348.48,374.79 L350.31,371.64 L352.14,368.56 L353.97,365.53 L355.80,362.56 L357.64,359.64 L359.47,356.78 L361.30,353.97 L363.13,351.21 L364.96,348.50 L366.79,345.84 L368.62,343.24 L370.45,340.68 L372.28,338.16 L374.11,335.70 L375.95,333.28 L377.78,330.90 L379.61,328.57 L381.44,326.28 L383.27,324.04 L385.10,321.84 L386.93,319.67 L388.76,317.55 L390.59,315.47 L392.43,313.42 L394.26,311.41 L396.09,309.44 L397.92,307.51 L399.75,305.61 L401.58,303.75 L403.41,301.92 L405.24,300.13 L407.07,298.37 L408.91,296.64 L410.74,294.95 L412.57,293.28 L414.40,291.65 L416.23,290.04 L418.06,288.47 L419.89,286.93 L421.72,285.41 L423.55,283.92 L425.38,282.46 L427.22,281.03 L429.05,279.63 L430.88,278.25 L432.71,276.89 L434.54,275.56 L436.37,274.26 L438.20,272.98 L440.03,271.72 L441.86,270.49 L443.70,269.28 L445.53,268.09 L447.36,266.93 L449.19,265.78 L451.02,264.66 L452.85,263.56 L454.68,262.48 L456.51,261.42 L458.34,260.38 L460.18,259.36 L462.01,258.35 L463.84,257.37 L465.67,256.40 L467.50,255.46 L469.33,254.53 L471.16,253.61 L472.99,252.72 L474.82,251.84 L476.66,250.98 L478.49,250.13 L480.32,249.30 L482.15,248.49 L483.98,247.69 L485.81,246.90 L487.64,246.13 L489.47,245.37 L491.30,244.63 L493.13,243.90 L494.97,243.19 L496.80,242.49 L498.63,241.80 L500.46,241.13 L502.29,240.46 L504.12,239.82 L505.95,239.18 L507.78,238.55 L509.61,237.94 L511.45,237.34 L513.28,236.74 L515.11,236.16 L516.94,235.59 L518.77,235.04 L520.60,234.49 L522.43,233.95 L524.26,233.42 L526.09,232.90 L527.93,232.40 L529.76,231.90 L531.59,231.41 L533.42,230.93 L535.25,230.46 L537.08,229.99 L538.91,229.54 L540.74,229.10 L542.57,228.66 L544.41,228.23 L546.24,227.81 L548.07,227.40 L549.90,226.99 L551.73,226.60 L553.56,226.21 L555.39,225.82 L557.22,225.45 L559.05,225.08 L560.88,224.72 L562.72,224.37 L564.55,224.02 L566.38,223.68 L568.21,223.34 L570.04,223.01 L571.87,222.69 L573.70,222.38 L575.53,222.07 L577.36,221.76 L579.20,221.46 L581.03,221.17 L582.86,220.88 L584.69,220.60 L586.52,220.32 L588.35,220.05 L590.18,219.79 L592.01,219.52 L593.84,219.27 L595.68,219.02 L597.51,218.77 L599.34,218.53 L601.17,218.29 L603.00,218.06 L604.83,217.83 L606.66,217.60 L608.49,217.38 L610.32,217.17 L612.15,216.95 L613.99,216.75 L615.82,216.54 L617.65,216.34 L619.48,216.14 L621.31,215.95 L623.14,215.76 L624.97,215.58 L626.80,215.39 L628.63,215.21 L630.47,215.04 L632.30,214.87 L634.13,214.70 L635.96,214.53 L637.79,214.37 L639.62,214.21 L641.45,214.05 L643.28,213.90 L645.11,213.75 L646.95,213.60 L648.78,213.45 L650.61,213.31 L652.44,213.17 L654.27,213.03 L656.10,212.90 L657.93,212.76 L659.76,212.63 L661.59,212.50 L663.43,212.38 L665.26,212.25 L667.09,212.13 L668.92,212.01 L670.75,211.90 L672.58,211.78 L674.41,211.67 L676.24,211.56 L678.07,211.45 L679.90,211.34 L681.74,211.24 L683.57,211.13 L685.40,211.03 L687.23,210.93 L689.06,210.83 L690.89,210.74 L692.72,210.64 L694.55,210.55 L696.38,210.46 L698.22,210.37 L700.05,210.28 L701.88,210.19 L703.71,210.11 L705.54,210.02 L707.37,209.94 L709.20,209.86 L711.03,209.78 L712.86,209.70 L714.70,209.62 L716.53,209.54 L718.36,209.47 L720.19,209.39 L722.02,209.32 L723.85,209.25 L725.68,209.18 L727.51,209.10 L729.34,209.04 L731.17,208.97 L733.01,208.90 L734.84,208.83 L736.67,208.77 L738.50,208.70 L740.33,208.64 L742.16,208.58 L743.99,208.51 L745.82,208.45 L747.65,208.39 L749.49,208.33 L751.32,208.27 L753.15,208.21 L754.98,208.15 L756.81,208.10 L758.64,208.04 L760.47,207.98 L762.30,207.93 L764.13,207.87 L765.97,207.82 L767.80,207.76 L769.63,207.71 L771.46,207.65 L773.29,207.60 L775.12,207.55 L776.95,207.50 L778.78,207.44 L780.61,207.39 L782.45,207.34 L784.28,207.29 L786.11,207.24 L787.94,207.19 L789.77,207.14 L791.60,207.09 L793.43,207.04 L795.26,206.99 L797.09,206.94 L798.92,206.89 L800.76,206.84 L802.59,206.79 L804.42,206.74 L806.25,206.69 L808.08,206.64 L809.91,206.59 L811.74,206.55 L813.57,206.50 L815.40,206.45 L817.24,206.40 L819.07,206.35 L820.90,206.30 L822.73,206.25 L824.56,206.20 L826.39,206.15 L828.22,206.10 L830.05,206.05 L831.88,206.00 L833.72,205.95 L835.55,205.90 L837.38,205.85 L839.21,205.80 L841.04,205.75 L842.87,205.70 L844.70,205.65 L846.53,205.60 L848.36,205.54 L850.19,205.49 L852.03,205.44 L853.86,205.38 L855.69,205.33 L857.52,205.28 L859.35,205.22 L861.18,205.17 L863.01,205.11 L864.84,205.06 L866.67,205.00 L868.51,204.94 L870.34,204.89 L872.17,204.83 L874.00,204.77 L875.83,204.71 L877.66,204.65 L879.49,204.59 L881.32,204.53 L883.15,204.47 L884.99,204.41 L886.82,204.35 L888.65,204.29 L890.48,204.22 L892.31,204.16 L894.14,204.09 L895.97,204.03 L897.80,203.96 L899.63,203.89 L901.47,203.82 L903.30,203.76 L905.13,203.69 L906.96,203.62 L908.79,203.54 L910.62,203.47 L912.45,203.40 L914.28,203.33 L916.11,203.25 L917.94,203.18 L919.78,203.10 L921.61,203.02 L923.44,202.94 L925.27,202.86 L927.10,202.78 L928.93,202.70 L930.76,202.62 L932.59,202.54 L934.42,202.45 L936.26,202.37 L938.09,202.28 L939.92,202.19 L941.75,202.11 L943.58,202.02 L945.41,201.92 L947.24,201.83 L949.07,201.74 L950.90,201.64 L952.74,201.55 L954.57,201.45 L956.40,201.35 L958.23,201.25 L960.06,201.15 L961.89,201.05 L963.72,200.95 L965.55,200.84 L967.38,200.74 L969.22,200.63 L971.05,200.52 L972.88,200.41 L974.71,200.30 L976.54,200.19 L978.37,200.07 L980.20,199.96 L982.03,199.84 L983.86,199.72 L985.69,199.60 L987.53,199.48 L989.36,199.35 L991.19,199.23 L993.02,199.10 L994.85,198.97 L996.68,198.84 L998.51,198.71 L1000.34,198.58 L1002.17,198.44 L1004.01,198.31 L1005.84,198.17 L1007.67,198.03 L1009.50,197.89 L1011.33,197.74 L1013.16,197.60 L1014.99,197.45 L1016.82,197.30 L1018.65,197.15 L1020.49,196.99 L1022.32,196.84 L1024.15,196.68 L1025.98,196.52 L1027.81,196.36 L1029.64,196.20 L1031.47,196.03 L1033.30,195.87 L1035.13,195.70 L1036.96,195.53 L1038.80,195.35 L1040.63,195.18 L1042.46,195.00 L1044.29,194.82 L1046.12,194.64 L1047.95,194.46 L1049.78,194.27 L1051.61,194.08 L1053.44,193.89 L1055.28,193.70 L1057.11,193.50 L1058.94,193.30 L1060.77,193.10 L1062.60,192.90 L1062.10,194.86 L1061.60,196.82 L1061.10,198.76 L1060.60,200.69 L1060.10,202.60 L1059.60,204.51 L1059.10,206.41 L1058.60,208.30 L1058.10,210.17 L1057.60,212.04 L1057.10,213.89 L1056.60,215.73 L1056.10,217.57 L1055.60,219.39 L1055.10,221.20 L1054.60,223.00 L1054.10,224.79 L1053.60,226.57 L1053.10,228.34 L1052.60,230.10 L1052.10,231.86 L1051.60,233.60 L1051.10,235.33 L1050.60,237.05 L1050.10,238.76 L1049.60,240.46 L1049.10,242.15 L1048.60,243.83 L1048.10,245.51 L1047.60,247.17 L1047.10,248.82 L1046.60,250.47 L1046.10,252.10 L1045.60,253.72 L1045.10,255.34 L1044.60,256.95 L1044.10,258.54 L1043.60,260.13 L1043.10,261.71 L1042.60,263.28 L1042.10,264.84 L1041.60,266.40 L1041.10,267.94 L1040.60,269.48 L1040.10,271.00 L1039.60,272.52 L1039.10,274.03 L1038.60,275.53 L1038.10,277.02 L1037.60,278.50 L1037.10,279.98 L1036.60,281.44 L1036.10,282.90 L1035.60,284.35 L1035.10,285.79 L1034.60,287.23 L1034.10,288.65 L1033.60,290.07 L1033.10,291.48 L1032.60,292.88 L1032.10,294.27 L1031.60,295.66 L1031.10,297.03 L1030.60,298.40 L1030.10,299.76 L1029.60,301.12 L1029.10,302.46 L1028.60,303.80 L1028.10,305.13 L1027.60,306.46 L1027.10,307.77 L1026.60,309.08 L1026.10,310.38 L1025.60,311.68 L1025.10,312.96 L1024.60,314.24 L1024.10,315.51 L1023.60,316.78 L1023.10,318.03 L1022.60,319.28 L1022.10,320.53 L1021.60,321.76 L1021.10,322.99 L1020.60,324.21 L1020.10,325.43 L1019.60,326.64 L1019.10,327.84 L1018.60,329.03 L1018.10,330.22 L1017.60,331.40 L1017.10,332.58 L1016.60,333.75 L1016.10,334.91 L1015.60,336.06 L1015.10,337.21 L1014.60,338.35 L1014.10,339.49 L1013.60,340.61 L1013.10,341.74 L1012.60,342.85 L1012.10,343.96 L1011.60,345.07 L1011.10,346.16 L1010.60,347.25 L1010.10,348.34 L1009.60,349.42 L1009.10,350.49 L1008.60,351.56 L1008.10,352.62 L1007.60,353.67 L1007.10,354.72 L1006.60,355.76 L1006.10,356.80 L1005.60,357.83 L1005.10,358.86 L1004.60,359.88 L1004.10,360.89 L1003.60,361.90 L1003.10,362.90 L1002.60,363.90 L1000.77,367.50 L998.94,371.03 L997.11,374.48 L995.28,377.87 L993.44,381.19 L991.61,384.43 L989.78,387.62 L987.95,390.74 L986.12,393.79 L984.29,396.78 L982.46,399.71 L980.63,402.59 L978.80,405.40 L976.96,408.16 L975.13,410.86 L973.30,413.50 L971.47,416.10 L969.64,418.64 L967.81,421.13 L965.98,423.57 L964.15,425.96 L962.32,428.30 L960.49,430.60 L958.65,432.84 L956.82,435.05 L954.99,437.21 L953.16,439.32 L951.33,441.40 L949.50,443.43 L947.67,445.43 L945.84,447.38 L944.01,449.29 L942.17,451.17 L940.34,453.01 L938.51,454.81 L936.68,456.58 L934.85,458.31 L933.02,460.01 L931.19,461.67 L929.36,463.30 L927.53,464.90 L925.69,466.47 L923.86,468.01 L922.03,469.52 L920.20,471.00 L918.37,472.45 L916.54,473.87 L914.71,475.26 L912.88,476.63 L911.05,477.97 L909.22,479.28 L907.38,480.57 L905.55,481.84 L903.72,483.08 L901.89,484.30 L900.06,485.49 L898.23,486.66 L896.40,487.81 L894.57,488.94 L892.74,490.04 L890.90,491.13 L889.07,492.19 L887.24,493.23 L885.41,494.26 L883.58,495.26 L881.75,496.25 L879.92,497.22 L878.09,498.17 L876.26,499.10 L874.42,500.02 L872.59,500.92 L870.76,501.80 L868.93,502.67 L867.10,503.52 L865.27,504.35 L863.44,505.17 L861.61,505.98 L859.78,506.77 L857.94,507.54 L856.11,508.30 L854.28,509.05 L852.45,509.79 L850.62,510.51 L848.79,511.22 L846.96,511.92 L845.13,512.60 L843.30,513.28 L841.47,513.94 L839.63,514.59 L837.80,515.23 L835.97,515.85 L834.14,516.47 L832.31,517.08 L830.48,517.67 L828.65,518.26 L826.82,518.84 L824.99,519.40 L823.15,519.96 L821.32,520.51 L819.49,521.05 L817.66,521.58 L815.83,522.10 L814.00,522.61 L812.17,523.12 L810.34,523.61 L808.51,524.10 L806.67,524.58 L804.84,525.05 L803.01,525.52 L801.18,525.98 L799.35,526.43 L797.52,526.87 L795.69,527.31 L793.86,527.74 L792.03,528.17 L790.19,528.58 L788.36,529.00 L786.53,529.40 L784.70,529.80 L782.87,530.19 L781.04,530.58 L779.21,530.96 L777.38,531.34 L775.55,531.71 L773.72,532.08 L771.88,532.44 L770.05,532.79 L768.22,533.14 L766.39,533.49 L764.56,533.83 L762.73,534.17 L760.90,534.50 L759.07,534.83 L757.24,535.15 L755.40,535.47 L753.57,535.79 L751.74,536.10 L749.91,536.40 L748.08,536.71 L746.25,537.00 L744.42,537.30 L742.59,537.59 L740.76,537.88 L738.92,538.16 L737.09,538.45 L735.26,538.72 L733.43,539.00 L731.60,539.27 L729.77,539.54 L727.94,539.80 L726.11,540.06 L724.28,540.32 L722.45,540.58 L720.61,540.83 L718.78,541.08 L716.95,541.33 L715.12,541.58 L713.29,541.82 L711.46,542.06 L709.63,542.30 L707.80,542.53 L705.97,542.77 L704.13,543.00 L702.30,543.23 L700.47,543.45 L698.64,543.68 L696.81,543.90 L694.98,544.12 L693.15,544.34 L691.32,544.55 L689.49,544.76 L687.65,544.98 L685.82,545.19 L683.99,545.40 L682.16,545.60 L680.33,545.81 L678.50,546.01 L676.67,546.21 L674.84,546.41 L673.01,546.61 L671.17,546.81 L669.34,547.00 L667.51,547.19 L665.68,547.39 L663.85,547.58 L662.02,547.77 L660.19,547.96 L658.36,548.14 L656.53,548.33 L654.70,548.51 L652.86,548.69 L651.03,548.88 L649.20,549.06 L647.37,549.24 L645.54,549.41 L643.71,549.59 L641.88,549.77 L640.05,549.94 L638.22,550.12 L636.38,550.29 L634.55,550.46 L632.72,550.63 L630.89,550.80 L629.06,550.97 L627.23,551.14 L625.40,551.31 L623.57,551.47 L621.74,551.64 L619.90,551.80 L618.07,551.97 L616.24,552.13 L614.41,552.29 L612.58,552.45 L610.75,552.61 L608.92,552.77 L607.09,552.93 L605.26,553.09 L603.43,553.25 L601.59,553.41 L599.76,553.56 L597.93,553.72 L596.10,553.88 L594.27,554.03 L592.44,554.18 L590.61,554.34 L588.78,554.49 L586.95,554.64 L585.11,554.80 L583.28,554.95 L581.45,555.10 L579.62,555.25 L577.79,555.40 L575.96,555.55 L574.13,555.70 L572.30,555.85 L570.47,555.99 L568.63,556.14 L566.80,556.29 L564.97,556.44 L563.14,556.58 L561.31,556.73 L559.48,556.87 L557.65,557.02 L555.82,557.16 L553.99,557.31 L552.15,557.45 L550.32,557.60 L548.49,557.74 L546.66,557.88 L544.83,558.03 L543.00,558.17 L541.17,558.31 L539.34,558.46 L537.51,558.60 L535.68,558.74 L533.84,558.88 L532.01,559.02 L530.18,559.16 L528.35,559.30 L526.52,559.44 L524.69,559.58 L522.86,559.72 L521.03,559.86 L519.20,560.00 L517.36,560.14 L515.53,560.28 L513.70,560.42 L511.87,560.56 L510.04,560.70 L508.21,560.83 L506.38,560.97 L504.55,561.11 L502.72,561.25 L500.88,561.39 L499.05,561.52 L497.22,561.66 L495.39,561.80 L493.56,561.93 L491.73,562.07 L489.90,562.21 L488.07,562.34 L486.24,562.48 L484.41,562.62 L482.57,562.75 L480.74,562.89 L478.91,563.02 L477.08,563.16 L475.25,563.30 L473.42,563.43 L471.59,563.57 L469.76,563.70 L467.93,563.84 L466.09,563.97 L464.26,564.11 L462.43,564.24 L460.60,564.38 L458.77,564.51 L456.94,564.65 L455.11,564.78 L453.28,564.92 L451.45,565.05 L449.61,565.19 L447.78,565.32 L445.95,565.46 L444.12,565.59 L442.29,565.73 L440.46,565.86 L438.63,565.99 L436.80,566.13 L434.97,566.26 L433.13,566.40 L431.30,566.53 L429.47,566.66 L427.64,566.80 L425.81,566.93 L423.98,567.07 L422.15,567.20 L420.32,567.33 L418.49,567.47 L416.66,567.60 L414.82,567.74 L412.99,567.87 L411.16,568.00 L409.33,568.14 L407.50,568.27 L405.67,568.40 L403.84,568.54 L402.01,568.67 L400.18,568.81 L398.34,568.94 L396.51,569.07 L394.68,569.21 L392.85,569.34 L391.02,569.47 L389.19,569.61 L387.36,569.74 L385.53,569.87 L383.70,570.01 L381.86,570.14 L380.03,570.28 L378.20,570.41 L376.37,570.54 L374.54,570.68 L372.71,570.81 L370.88,570.94 L369.05,571.08 L367.22,571.21 L365.38,571.34 L363.55,571.48 L361.72,571.61 L359.89,571.75 L358.06,571.88 L356.23,572.01 L354.40,572.15 L352.57,572.28 L350.74,572.42 L348.91,572.55 L347.07,572.68 L345.24,572.82 L343.41,572.95 L341.58,573.08 L339.75,573.22 L337.92,573.35 L336.09,573.49 L334.26,573.62 L332.43,573.76 L330.59,573.89 L328.76,574.02 L326.93,574.16 L325.10,574.29 L323.27,574.43 L321.44,574.56 L319.61,574.69 L317.78,574.83 L315.95,574.96 L314.11,575.10 L312.28,575.23 L310.45,575.37 L308.62,575.50 L306.79,575.64 L304.96,575.77 L303.13,575.91 L301.30,576.04 L299.47,576.17 L297.64,576.31 L295.80,576.44 L293.97,576.58 L292.14,576.71 L290.31,576.85 L288.48,576.98 L286.65,577.12 L284.82,577.25 L282.99,577.39 L281.16,577.52 L279.32,577.66 L277.49,577.79 L275.66,577.93 L273.83,578.06Z" fill="none" stroke="#000080" stroke-width="4.3" stroke-linejoin="miter" stroke-miterlimit="10"/>
<rect x="185.0" y="39.3" width="935.5" height="687.0" fill="none" stroke="#000" stroke-width="5.0" stroke-linejoin="round"/>
<path d="M171.0,39.3H185.0M171.0,211.1H185.0M171.0,382.8H185.0M171.0,554.5H185.0M171.0,726.3H185.0M177.3,125.2H185.0M177.3,296.9H185.0M177.3,468.7H185.0M177.3,640.4H185.0M185.0,726.3V739.1M418.9,726.3V739.1M652.8,726.3V739.1M886.6,726.3V739.1M1120.5,726.3V739.1M301.9,726.3V732.1M535.8,726.3V732.1M769.7,726.3V732.1M1003.6,726.3V732.1" stroke="#000" stroke-width="5.0" stroke-linecap="round" fill="none"/>
<text x="161.4" y="52.8" font-size="48" text-anchor="end">500</text>
<text x="161.4" y="224.6" font-size="48" text-anchor="end">250</text>
<text x="161.4" y="396.3" font-size="48" text-anchor="end">0</text>
<text x="161.4" y="568.0" font-size="48" text-anchor="end">-250</text>
<text x="161.4" y="739.8" font-size="48" text-anchor="end">-500</text>
<text x="185.0" y="787" font-size="48" text-anchor="middle">1.2</text>
<text x="418.9" y="787" font-size="48" text-anchor="middle">1.6</text>
<text x="652.8" y="787" font-size="48" text-anchor="middle">2.0</text>
<text x="886.6" y="787" font-size="48" text-anchor="middle">2.4</text>
<text x="1120.5" y="787" font-size="48" text-anchor="middle">2.8</text>
<g clip-path="url(#cl)"><text x="506" y="842" font-size="61">Voltage (V)</text></g>
<text transform="translate(60.7,696.5) rotate(-90)" font-size="60.6">Current density (mA/g)</text>
<text x="196.8" y="697" font-size="95.5">(a)</text>
<path d="M902,508.5H972.5" stroke="#000000" stroke-width="4.6" stroke-linecap="round"/>
<text transform="translate(1045.5,517.8) scale(0.93,1)" font-size="32" text-anchor="middle">1 mV/sec</text>
<path d="M902,546.7H972.5" stroke="#ff0000" stroke-width="4.6" stroke-linecap="round"/>
<text transform="translate(1045.5,556.3) scale(0.93,1)" font-size="32" text-anchor="middle">2 mV/sec</text>
<path d="M902,585.0H972.5" stroke="#0000ff" stroke-width="4.6" stroke-linecap="round"/>
<text transform="translate(1045.5,594.8) scale(0.93,1)" font-size="32" text-anchor="middle">4 mV/sec</text>
<path d="M902,623.2H972.5" stroke="#ff00ff" stroke-width="4.6" stroke-linecap="round"/>
<text transform="translate(1045.5,633.3) scale(0.93,1)" font-size="32" text-anchor="middle">6 mV/sec</text>
<path d="M902,661.5H972.5" stroke="#008000" stroke-width="4.6" stroke-linecap="round"/>
<text transform="translate(1045.5,671.8) scale(0.93,1)" font-size="32" text-anchor="middle">8 mV/sec</text>
<path d="M902,699.7H972.5" stroke="#000080" stroke-width="4.6" stroke-linecap="round"/>
<text transform="translate(1045.5,710.3) scale(0.93,1)" font-size="32" text-anchor="middle">10 mV/sec</text>
</g>
<g id="right">
<path d="M1536.3,91.1 L1615.6,118.6 L1774.0,160.7 L1932.5,192.3 L2091.0,220.9 L2249.5,245.5" fill="none" stroke="#000" stroke-width="3.6" stroke-linecap="round" stroke-dasharray="24.2 15.1 3 15.1" stroke-dashoffset="-1"/>
<path d="M1536.3,120.9 L1615.6,118.6 L1774.0,117.4 L1932.5,118.6 L2091.0,116.3 L2249.5,116.9" fill="none" stroke="#0000ff" stroke-width="4" stroke-linecap="round" stroke-dasharray="24.2 15.1 3 15.1" stroke-dashoffset="-1"/>
<circle cx="1536.3" cy="91.1" r="7.2" fill="url(#gk)"/>
<circle cx="1615.6" cy="118.6" r="7.2" fill="url(#gk)"/>
<circle cx="1774.0" cy="160.7" r="7.2" fill="url(#gk)"/>
<circle cx="1932.5" cy="192.3" r="7.2" fill="url(#gk)"/>
<circle cx="2091.0" cy="220.9" r="7.2" fill="url(#gk)"/>
<circle cx="2249.5" cy="245.5" r="7.2" fill="url(#gk)"/>
<circle cx="1536.3" cy="120.9" r="7.4" fill="url(#gb)"/>
<circle cx="1615.6" cy="118.6" r="7.4" fill="url(#gb)"/>
<circle cx="1774.0" cy="117.4" r="7.4" fill="url(#gb)"/>
<circle cx="1932.5" cy="118.6" r="7.4" fill="url(#gb)"/>
<circle cx="2091.0" cy="116.3" r="7.4" fill="url(#gb)"/>
<circle cx="2249.5" cy="116.9" r="7.4" fill="url(#gb)"/>
<path d="M1457.1,700.5V57.2H2328.7M1457.1,700.5H2328.7M1444.2,700.5H1457.1M1444.2,583.5H1457.1M1444.2,466.6H1457.1M1444.2,349.6H1457.1M1444.2,232.6H1457.1M1444.2,115.7H1457.1M1450.7,642.0H1457.1M1450.7,525.1H1457.1M1450.7,408.1H1457.1M1450.7,291.1H1457.1M1450.7,174.2H1457.1M1450.7,57.2H1457.1M1457.1,700.5V713.8M1536.3,700.5V713.8M1615.6,700.5V713.8M1694.8,700.5V713.8M1774.0,700.5V713.8M1853.3,700.5V713.8M1932.5,700.5V713.8M2011.8,700.5V713.8M2091.0,700.5V713.8M2170.2,700.5V713.8M2249.5,700.5V713.8M2328.7,700.5V713.8M1496.7,700.5V707.5M1576.0,700.5V707.5M1655.2,700.5V707.5M1734.4,700.5V707.5M1813.7,700.5V707.5M1892.9,700.5V707.5M1972.1,700.5V707.5M2051.4,700.5V707.5M2130.6,700.5V707.5M2209.8,700.5V707.5M2289.1,700.5V707.5" stroke="#000" stroke-width="4.8" stroke-linecap="round" stroke-linejoin="round" fill="none"/>
<path d="M2328.7,57.2V700.5M2328.7,700.5H2339.5M2328.7,583.5H2339.5M2328.7,466.6H2339.5M2328.7,349.6H2339.5M2328.7,232.6H2339.5M2328.7,115.7H2339.5M2328.7,642.0H2335.0M2328.7,525.1H2335.0M2328.7,408.1H2335.0M2328.7,291.1H2335.0M2328.7,174.2H2335.0M2328.7,57.2H2335.0" stroke="#0000ff" stroke-width="4.8" stroke-linecap="round" fill="none"/>
<text x="1436" y="713.7" font-size="46" text-anchor="end">0</text>
<text x="2349.5" y="713.7" font-size="46" fill="#0000ff">0</text>
<text x="1436" y="596.7" font-size="46" text-anchor="end">20</text>
<text x="2349.5" y="596.7" font-size="46" fill="#0000ff">20</text>
<text x="1436" y="479.8" font-size="46" text-anchor="end">40</text>
<text x="2349.5" y="479.8" font-size="46" fill="#0000ff">40</text>
<text x="1436" y="362.8" font-size="46" text-anchor="end">60</text>
<text x="2349.5" y="362.8" font-size="46" fill="#0000ff">60</text>
<text x="1436" y="245.8" font-size="46" text-anchor="end">80</text>
<text x="2349.5" y="245.8" font-size="46" fill="#0000ff">80</text>
<text x="1436" y="128.9" font-size="46" text-anchor="end">100</text>
<text x="2349.5" y="128.9" font-size="46" fill="#0000ff">100</text>
<text x="1457.1" y="757.5" font-size="46" text-anchor="middle">0</text>
<text x="1536.3" y="757.5" font-size="46" text-anchor="middle">1</text>
<text x="1615.6" y="757.5" font-size="46" text-anchor="middle">2</text>
<text x="1694.8" y="757.5" font-size="46" text-anchor="middle">3</text>
<text x="1774.0" y="757.5" font-size="46" text-anchor="middle">4</text>
<text x="1853.3" y="757.5" font-size="46" text-anchor="middle">5</text>
<text x="1932.5" y="757.5" font-size="46" text-anchor="middle">6</text>
<text x="2011.8" y="757.5" font-size="46" text-anchor="middle">7</text>
<text x="2091.0" y="757.5" font-size="46" text-anchor="middle">8</text>
<text x="2170.2" y="757.5" font-size="46" text-anchor="middle">9</text>
<text x="2249.5" y="757.5" font-size="46" text-anchor="middle">10</text>
<text x="2328.7" y="757.5" font-size="46" text-anchor="middle">11</text>
<g clip-path="url(#cr)">
<text x="1665.2" y="809.4" font-size="56.5">Scan rate (mV/sec)</text>
<text transform="translate(1356.7,690) rotate(-90)" font-size="56.6">Specific capacitance (F/g)</text>
</g>
<text transform="translate(2426.5,68.6) rotate(90)" font-size="56.6" fill="#0000ff">Coulombic efficiency (%)</text>
<text x="1469" y="678.5" font-size="97">(b)</text>
</g>
</g>
</svg></body></html>
